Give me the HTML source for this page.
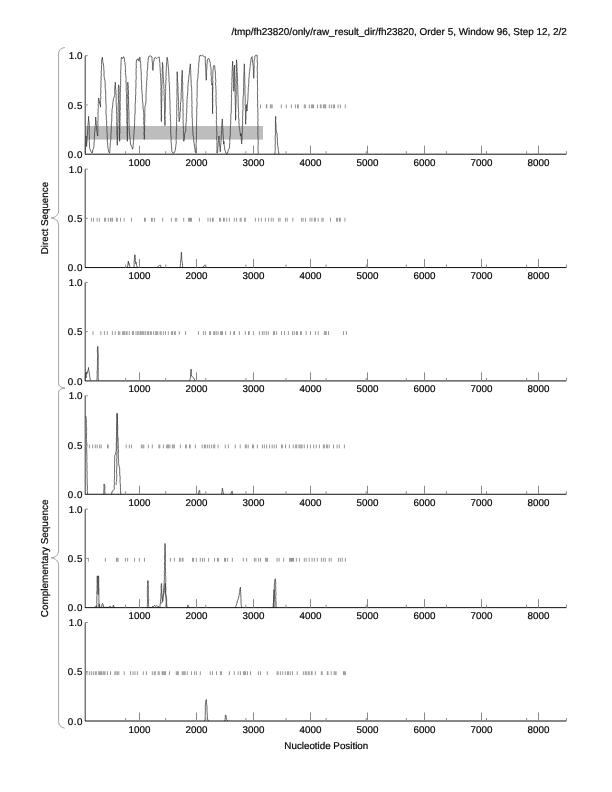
<!DOCTYPE html>
<html><head><meta charset="utf-8"><title>plot</title>
<style>html,body{margin:0;padding:0;background:#fff;width:612px;height:792px;overflow:hidden}svg{display:block}</style>
</head><body>
<svg width="612" height="792" viewBox="0 0 612 792" text-rendering="geometricPrecision"><text x="566.8" y="35.1" font-size="9.93" text-anchor="end" font-family="Liberation Sans, Arial, Helvetica, sans-serif" stroke="#000" stroke-width="0.2">/tmp/fh23820/only/raw_result_dir/fh23820, Order 5, Window 96, Step 12, 2/2</text>
<rect x="85.20" y="126.0" width="177.80" height="13.6" fill="#bdbdbd"/>
<line x1="260.50" y1="104.45" x2="260.50" y2="108.25" stroke="#8c8c8c" stroke-width="0.9"/>
<line x1="266.40" y1="104.45" x2="266.40" y2="108.25" stroke="#8c8c8c" stroke-width="0.9"/>
<line x1="266.80" y1="104.45" x2="266.80" y2="108.25" stroke="#8c8c8c" stroke-width="0.9"/>
<line x1="270.40" y1="104.45" x2="270.40" y2="108.25" stroke="#8c8c8c" stroke-width="0.9"/>
<line x1="271.20" y1="104.45" x2="271.20" y2="108.25" stroke="#8c8c8c" stroke-width="0.9"/>
<line x1="272.20" y1="104.45" x2="272.20" y2="108.25" stroke="#8c8c8c" stroke-width="0.9"/>
<line x1="281.30" y1="104.45" x2="281.30" y2="108.25" stroke="#8c8c8c" stroke-width="0.9"/>
<line x1="286.30" y1="104.45" x2="286.30" y2="108.25" stroke="#8c8c8c" stroke-width="0.9"/>
<line x1="291.40" y1="104.45" x2="291.40" y2="108.25" stroke="#8c8c8c" stroke-width="0.9"/>
<line x1="295.40" y1="104.45" x2="295.40" y2="108.25" stroke="#8c8c8c" stroke-width="0.9"/>
<line x1="297.50" y1="104.45" x2="297.50" y2="108.25" stroke="#8c8c8c" stroke-width="0.9"/>
<line x1="298.30" y1="104.45" x2="298.30" y2="108.25" stroke="#8c8c8c" stroke-width="0.9"/>
<line x1="304.30" y1="104.45" x2="304.30" y2="108.25" stroke="#8c8c8c" stroke-width="0.9"/>
<line x1="305.30" y1="104.45" x2="305.30" y2="108.25" stroke="#8c8c8c" stroke-width="0.9"/>
<line x1="309.40" y1="104.45" x2="309.40" y2="108.25" stroke="#8c8c8c" stroke-width="0.9"/>
<line x1="311.60" y1="104.45" x2="311.60" y2="108.25" stroke="#8c8c8c" stroke-width="0.9"/>
<line x1="312.60" y1="104.45" x2="312.60" y2="108.25" stroke="#8c8c8c" stroke-width="0.9"/>
<line x1="313.50" y1="104.45" x2="313.50" y2="108.25" stroke="#8c8c8c" stroke-width="0.9"/>
<line x1="317.50" y1="104.45" x2="317.50" y2="108.25" stroke="#8c8c8c" stroke-width="0.9"/>
<line x1="320.30" y1="104.45" x2="320.30" y2="108.25" stroke="#8c8c8c" stroke-width="0.9"/>
<line x1="321.10" y1="104.45" x2="321.10" y2="108.25" stroke="#8c8c8c" stroke-width="0.9"/>
<line x1="323.40" y1="104.45" x2="323.40" y2="108.25" stroke="#8c8c8c" stroke-width="0.9"/>
<line x1="324.10" y1="104.45" x2="324.10" y2="108.25" stroke="#8c8c8c" stroke-width="0.9"/>
<line x1="325.10" y1="104.45" x2="325.10" y2="108.25" stroke="#8c8c8c" stroke-width="0.9"/>
<line x1="325.70" y1="104.45" x2="325.70" y2="108.25" stroke="#8c8c8c" stroke-width="0.9"/>
<line x1="329.30" y1="104.45" x2="329.30" y2="108.25" stroke="#8c8c8c" stroke-width="0.9"/>
<line x1="331.40" y1="104.45" x2="331.40" y2="108.25" stroke="#8c8c8c" stroke-width="0.9"/>
<line x1="333.40" y1="104.45" x2="333.40" y2="108.25" stroke="#8c8c8c" stroke-width="0.9"/>
<line x1="334.50" y1="104.45" x2="334.50" y2="108.25" stroke="#8c8c8c" stroke-width="0.9"/>
<line x1="338.10" y1="104.45" x2="338.10" y2="108.25" stroke="#8c8c8c" stroke-width="0.9"/>
<line x1="340.40" y1="104.45" x2="340.40" y2="108.25" stroke="#8c8c8c" stroke-width="0.9"/>
<line x1="345.30" y1="104.45" x2="345.30" y2="108.25" stroke="#8c8c8c" stroke-width="0.9"/>
<polyline points="85.31,153.11 85.28,150.94 85.46,149.10 85.46,147.70 85.30,146.12 85.34,144.28 85.58,142.61 85.53,140.47 85.81,139.72 85.81,137.35 86.10,136.04 86.24,138.33 86.31,139.42 86.56,140.75 86.60,142.79 86.39,144.34 86.63,146.55 86.68,145.09 86.75,142.97 87.08,140.88 87.17,138.67 87.28,137.35 87.19,135.31 87.55,133.89 87.49,132.39 87.64,130.36 87.88,129.15 87.74,127.31 87.94,125.54 88.08,124.15 88.30,121.60 88.54,119.56 88.43,118.49 88.60,116.34 88.58,118.08 88.67,120.05 88.99,121.60 89.14,123.40 89.23,124.81 89.19,126.86 89.19,128.41 89.33,130.72 89.22,132.10 89.09,133.86 89.37,135.93 89.49,136.79 89.35,138.97 89.23,140.44 89.34,141.74 89.52,143.92 89.46,145.99 89.62,147.12 89.91,149.17 91.22,151.80 92.14,153.11 92.52,151.92 92.82,149.77 93.44,148.65 93.85,146.55 94.08,145.37 93.96,143.21 94.09,142.16 94.44,139.66 94.22,138.14 94.34,136.83 94.59,134.95 94.45,133.52 94.70,132.08 95.05,130.61 94.97,128.91 95.13,126.62 95.16,125.54 95.46,124.16 95.58,122.48 95.51,120.29 95.52,118.87 95.82,117.00 95.77,118.19 95.96,120.01 96.14,121.58 96.13,123.41 96.47,125.54 96.47,127.34 96.60,129.92 97.02,131.02 97.13,133.41 97.79,136.04 97.70,134.20 97.77,132.27 98.00,131.66 97.86,129.39 97.72,127.27 97.85,125.81 98.07,124.02 97.75,123.31 97.99,120.69 98.01,118.89 98.03,118.37 98.19,116.37 97.96,114.32 97.94,113.15 98.11,111.49 98.05,109.17 98.27,108.42 98.31,106.55 98.18,104.53 98.45,103.17 98.33,101.26 98.52,99.04 98.71,97.96 98.90,99.66 99.49,101.90 99.70,103.88 100.30,105.34 100.41,107.15 100.63,106.13 100.68,103.78 100.41,102.01 100.43,100.38 100.65,99.61 100.78,97.50 100.73,96.28 100.53,94.50 100.91,93.05 100.88,91.08 100.68,89.84 100.78,88.25 101.09,86.16 100.88,85.22 101.06,82.68 100.84,81.05 101.20,80.24 101.07,78.26 100.98,76.98 101.39,75.11 101.19,73.31 101.15,70.99 101.57,70.09 101.44,68.76 101.46,67.01 101.69,64.55 101.50,62.97 101.56,61.65 101.73,59.88 102.38,57.25 102.55,58.99 102.75,61.42 103.11,62.72 103.47,65.09 103.70,66.44 103.76,68.63 103.89,69.86 103.99,70.93 104.05,72.82 103.96,75.25 104.12,76.54 104.35,78.26 105.01,80.89 105.18,82.56 105.08,84.12 105.25,86.04 105.14,87.38 105.27,88.65 105.56,90.53 105.55,92.44 105.77,93.66 105.67,95.33 105.76,97.06 105.77,99.00 105.80,100.52 105.86,102.73 106.00,104.37 106.16,105.35 106.05,107.89 106.21,108.64 105.96,110.72 105.99,112.19 106.04,114.43 106.39,116.42 106.32,117.66 106.26,119.56 106.55,120.51 106.73,123.14 106.53,124.77 106.69,125.85 107.02,127.90 106.76,129.06 106.99,130.59 106.93,132.21 107.24,133.49 107.25,135.64 107.11,137.15 107.44,139.01 107.29,141.22 107.68,142.84 107.64,143.92 107.73,145.61 107.97,148.19 108.33,149.38 108.69,151.80 109.61,153.11 109.72,151.85 110.03,149.32 109.90,148.36 110.22,146.35 110.16,143.83 110.56,142.52 110.45,141.38 110.83,139.47 110.92,137.35 110.82,136.14 110.89,134.51 111.13,132.24 111.25,131.30 111.20,128.70 111.39,127.19 111.29,125.46 111.34,123.86 111.53,122.35 111.79,120.69 111.76,118.91 111.84,117.66 111.81,115.44 111.81,113.79 112.06,112.79 112.00,111.09 112.06,109.37 112.56,107.24 112.70,105.94 112.75,104.74 112.89,102.66 113.20,101.54 113.31,99.27 113.90,97.70 114.63,95.33 114.80,93.86 114.75,91.87 114.69,89.96 114.77,89.06 114.93,86.72 114.94,85.89 115.36,84.05 115.28,82.20 115.31,83.53 115.43,85.44 115.48,87.06 115.64,89.32 116.06,90.47 115.86,92.61 116.01,93.52 116.20,95.33 116.03,96.80 116.26,98.56 116.18,100.17 116.13,101.49 116.20,103.26 116.21,104.42 116.36,106.28 116.51,108.25 116.61,110.01 116.63,111.88 116.53,112.83 116.81,114.23 116.74,116.43 116.48,118.27 116.87,119.63 116.84,121.46 116.63,122.73 116.81,124.71 116.97,126.31 116.92,128.00 116.99,129.37 116.83,130.18 116.83,132.19 116.85,134.37 117.07,135.73 117.14,137.40 117.11,138.20 117.28,140.70 117.19,142.06 117.29,143.10 117.25,145.23 117.41,143.29 117.18,141.67 117.51,139.95 117.57,139.24 117.52,136.88 117.57,135.60 117.75,133.88 117.75,131.59 117.60,130.16 117.90,128.58 117.88,126.59 117.91,125.54 117.75,123.63 118.03,122.51 118.06,120.40 118.02,118.98 118.03,116.94 118.23,115.40 118.29,114.66 117.92,112.46 118.28,111.44 118.15,108.97 118.08,108.16 118.10,106.09 118.10,104.40 118.47,102.30 118.44,101.12 118.49,99.73 118.24,98.33 118.38,95.66 118.20,94.59 118.41,92.73 118.31,91.15 118.41,90.12 118.30,88.39 118.68,86.00 118.57,84.83 118.92,86.83 119.08,88.08 119.09,90.08 119.05,91.55 119.33,93.39 119.08,94.80 119.06,95.94 119.01,98.48 119.10,100.21 119.10,101.00 119.23,102.51 119.19,105.03 119.42,106.46 119.33,108.18 119.47,109.34 119.40,110.35 119.42,112.43 119.44,114.26 119.26,115.15 119.55,116.84 119.37,118.70 119.32,120.77 119.62,121.80 119.50,123.45 119.48,125.16 119.33,126.48 119.36,128.98 119.50,129.75 119.69,132.29 119.51,132.86 119.42,134.40 119.50,136.00 119.47,137.80 119.63,140.16 119.62,141.29 119.75,139.56 119.63,138.07 119.64,136.22 119.53,134.52 119.94,132.72 119.77,131.69 119.94,129.57 119.72,127.98 119.80,126.60 120.06,125.45 120.05,122.84 119.72,122.03 120.11,120.13 120.00,117.93 119.95,117.42 120.15,115.71 120.24,113.35 119.90,111.61 120.10,110.62 120.30,109.04 120.14,107.15 120.23,105.82 120.18,103.91 120.04,102.53 120.15,101.04 120.35,98.65 120.16,96.93 120.40,95.81 120.21,93.41 120.41,92.37 120.39,90.28 120.50,88.37 120.41,87.26 120.71,85.83 120.71,83.97 120.47,82.04 120.80,80.94 120.56,78.47 120.67,77.60 120.66,75.44 120.80,74.59 120.64,71.87 120.72,70.68 120.89,68.76 120.97,67.75 120.87,65.46 121.10,63.93 120.93,62.51 121.24,60.43 121.16,59.32 121.45,57.25 122.51,58.57 123.56,56.60 124.47,59.22 124.62,61.57 124.93,62.46 125.05,64.54 125.39,66.44 125.53,68.65 125.39,69.66 125.49,72.03 125.53,72.59 125.57,74.67 125.99,76.93 125.99,78.74 126.15,79.61 125.91,82.01 126.21,82.60 126.18,84.83 126.28,86.32 126.19,87.91 126.14,89.16 126.22,91.22 126.54,92.58 126.57,94.33 126.35,96.70 126.58,97.88 126.29,99.57 126.46,101.75 126.41,102.72 126.74,103.96 126.57,106.54 126.75,107.26 126.48,108.92 126.88,110.80 126.84,113.21 126.71,114.10 127.00,116.16 126.84,117.66 126.78,119.60 126.84,120.76 126.74,123.03 127.16,124.57 127.21,125.53 126.95,127.76 127.29,130.02 127.09,130.86 127.15,132.84 127.39,134.16 127.38,136.51 127.42,138.24 127.37,139.40 127.36,141.29 127.30,139.49 127.51,137.50 127.28,136.67 127.32,134.20 127.24,133.15 127.38,132.02 127.63,130.39 127.38,127.66 127.33,126.52 127.60,124.82 127.41,123.14 127.59,121.80 127.66,120.37 127.64,117.86 127.73,116.42 127.63,114.88 127.71,113.03 127.52,111.44 127.50,110.57 127.69,108.26 127.63,107.41 127.69,104.86 127.83,103.72 127.92,101.42 127.72,100.64 127.89,99.11 127.56,96.73 127.61,94.96 127.99,93.79 127.98,91.90 127.97,90.35 127.73,89.10 128.03,86.65 127.90,85.63 127.76,83.69 127.89,82.20 127.81,83.60 127.93,85.82 128.17,87.10 127.98,89.00 128.33,90.58 128.25,92.35 128.52,94.52 128.29,95.73 128.55,97.96 128.54,99.66 128.68,100.75 128.52,103.12 128.67,104.27 128.66,106.71 128.70,107.89 128.76,109.35 129.01,111.69 128.84,112.37 129.04,114.02 128.77,116.50 128.99,118.04 129.02,119.76 129.08,120.53 128.93,122.64 129.23,124.71 129.04,126.01 129.20,127.51 129.15,128.89 129.33,130.79 129.47,132.94 129.43,134.06 129.86,136.27 129.73,136.91 130.18,139.57 130.11,140.10 130.43,142.14 130.38,143.92 131.70,146.55 132.62,149.17 132.98,147.67 133.15,145.48 133.33,143.91 133.40,142.61 133.47,141.42 133.75,139.02 133.59,137.67 133.82,136.05 133.76,134.28 134.11,133.45 133.93,131.45 134.33,129.21 134.32,128.16 134.54,126.00 134.52,124.81 134.61,122.81 134.60,121.43 134.69,119.82 134.77,117.85 134.67,116.35 134.95,114.19 135.14,113.13 135.11,111.09 135.14,109.06 135.20,107.34 135.10,106.08 135.14,104.46 135.36,102.33 135.46,100.74 135.55,99.93 135.51,97.42 135.56,96.17 135.79,94.24 135.80,93.63 135.80,91.77 135.62,90.33 135.80,88.66 136.02,86.07 135.90,84.83 136.06,83.68 135.79,81.32 136.11,79.43 136.21,77.91 136.21,76.08 136.11,75.35 136.02,72.90 136.18,71.30 136.02,69.48 136.11,68.72 136.36,67.01 136.18,65.21 136.19,63.24 136.45,61.37 136.42,59.88 137.21,59.88 138.00,58.57 138.92,61.19 139.40,59.29 139.58,57.25 140.00,57.25 140.15,59.32 140.07,61.05 140.40,61.94 140.59,63.39 140.79,65.37 140.64,67.20 140.79,68.10 141.04,69.55 141.05,71.70 141.26,73.04 141.26,75.56 141.32,76.82 141.28,77.66 141.24,79.48 141.56,81.46 141.59,83.66 141.51,84.50 141.80,85.90 141.61,87.94 141.73,89.58 141.97,91.39 141.97,93.14 142.24,94.32 142.37,96.29 142.28,98.48 142.44,99.18 142.49,101.41 142.93,103.22 142.89,104.53 143.04,106.21 143.08,108.64 143.51,110.25 143.68,112.40 143.78,114.02 143.94,116.05 143.69,117.94 143.65,119.17 143.84,120.50 143.74,122.83 143.76,124.24 144.19,125.43 143.92,127.68 144.09,129.40 144.26,130.52 144.09,132.35 144.02,134.74 144.37,136.22 144.08,138.05 144.33,139.32 144.46,137.67 144.49,136.05 144.30,134.02 144.33,132.34 144.40,131.58 144.57,130.09 144.61,127.78 144.57,126.38 144.69,124.87 144.50,123.41 144.82,121.29 144.81,119.44 144.57,118.09 144.80,117.34 144.83,114.99 144.91,113.38 144.67,112.47 144.86,110.60 144.90,109.33 144.86,107.15 145.20,105.81 145.64,104.08 145.91,101.90 145.95,100.46 146.07,98.25 145.99,96.92 145.99,95.56 146.09,92.80 146.14,92.17 146.30,89.52 146.24,87.69 146.58,86.70 146.57,84.83 146.74,83.51 146.56,81.73 146.77,80.39 147.05,78.88 146.82,77.24 147.26,75.73 147.01,73.24 147.10,71.43 147.35,70.38 147.63,69.01 147.67,67.27 147.80,64.88 147.71,62.90 148.12,61.28 148.14,59.88 148.46,57.95 148.93,56.20 150.51,55.94 152.08,56.99 151.95,58.42 152.14,60.70 152.25,61.95 152.58,63.90 152.60,65.76 152.33,67.24 152.61,69.07 153.00,70.38 153.10,68.74 153.20,66.69 153.41,64.13 153.53,62.51 154.14,59.72 154.44,57.91 155.49,57.25 156.81,58.57 158.12,57.25 159.17,56.99 159.50,58.30 159.36,60.05 159.87,62.68 159.96,63.82 159.84,65.41 160.13,67.38 160.09,68.63 160.25,70.64 160.30,72.38 160.39,73.11 160.66,75.05 160.50,76.82 160.75,78.26 160.60,80.21 160.88,81.82 160.87,82.90 160.80,84.56 161.03,85.79 161.06,87.32 160.79,89.21 161.11,91.10 160.92,93.17 160.88,94.27 161.03,96.22 161.15,97.70 161.00,98.92 160.94,101.14 161.18,102.63 161.00,103.87 161.28,105.64 161.03,107.11 161.37,108.44 161.10,110.12 161.34,112.38 161.14,113.16 161.20,114.97 161.34,116.37 161.28,118.01 161.58,120.27 161.40,121.60 161.26,120.48 161.28,118.11 161.68,116.94 161.60,114.83 161.40,113.41 161.38,111.22 161.52,109.34 161.55,108.58 161.70,106.56 161.70,104.84 161.52,103.34 161.65,101.83 161.89,99.79 161.77,98.50 161.73,96.20 161.88,95.31 161.93,93.42 161.98,91.73 161.92,89.79 161.80,88.32 161.74,86.40 161.93,84.83 162.10,83.37 162.08,81.09 162.05,79.62 162.18,77.85 162.26,76.76 162.10,74.71 162.40,72.67 162.33,71.66 162.19,69.43 162.29,67.99 162.67,65.96 162.37,64.31 162.59,62.51 162.70,64.45 162.78,66.05 163.01,67.60 162.92,69.80 162.93,71.17 163.10,72.95 163.24,74.32 163.19,76.66 163.40,77.29 163.48,79.46 163.48,81.23 163.76,83.32 163.90,84.83 163.88,86.17 163.87,88.37 164.21,89.75 163.95,91.70 164.06,92.62 164.00,94.93 164.32,96.39 164.22,97.93 164.16,100.04 164.26,101.28 164.50,103.12 164.39,104.12 164.47,105.55 164.63,107.45 164.68,108.97 164.52,110.59 164.58,112.13 164.45,114.40 164.61,115.46 164.66,117.37 164.75,119.19 164.89,120.49 165.05,122.70 164.72,124.30 164.95,125.54 165.15,124.25 164.86,122.68 165.10,120.08 164.87,119.57 165.17,117.11 164.97,115.35 165.06,114.49 165.14,112.11 165.40,111.25 165.12,109.75 165.34,107.99 165.40,106.50 165.48,104.81 165.26,103.01 165.43,101.44 165.42,99.98 165.50,97.61 165.40,95.84 165.54,94.12 165.56,92.59 165.61,91.39 165.65,89.70 165.72,88.45 165.54,86.74 165.78,84.72 165.91,83.36 165.83,81.17 166.13,79.07 166.04,78.05 165.83,76.33 166.15,75.03 166.05,73.40 166.17,71.12 166.38,68.89 166.26,67.76 166.51,66.16 166.50,64.69 166.67,62.47 166.89,61.08 166.91,58.93 167.18,57.25 167.35,58.96 167.71,60.29 167.91,62.06 167.97,63.82 168.00,63.82 168.17,65.19 168.33,67.67 168.56,69.09 168.66,70.38 168.66,71.77 168.72,73.70 168.93,75.54 168.76,77.07 169.18,78.46 168.91,79.77 168.96,81.25 169.42,83.35 169.31,84.83 169.43,86.82 169.59,88.25 169.53,89.90 169.61,91.51 169.66,92.69 169.71,94.63 169.81,95.84 169.62,97.40 169.92,100.10 169.93,101.09 170.05,103.23 169.97,104.53 170.05,105.88 170.00,107.71 170.06,109.37 170.25,111.61 170.06,112.81 170.10,113.92 170.48,116.11 170.58,117.59 170.26,119.16 170.56,121.46 170.77,122.55 170.63,124.22 170.64,125.39 170.80,127.16 170.64,128.57 170.64,131.01 170.74,132.99 170.78,134.51 170.85,135.13 171.16,137.04 171.22,138.62 170.98,140.97 171.32,142.70 171.28,143.92 171.54,145.39 171.67,148.11 171.76,150.35 171.94,151.80 172.99,153.11 173.91,153.11 175.22,150.48 175.35,149.40 175.77,146.62 175.71,145.74 176.14,143.92 176.31,141.77 176.13,140.91 176.10,139.43 176.27,136.83 176.25,135.80 176.31,134.28 176.22,132.79 176.35,130.96 176.49,129.05 176.42,127.85 176.69,126.21 176.56,123.97 176.38,123.15 176.69,121.33 176.56,119.42 176.67,117.66 176.89,116.41 176.75,114.14 176.69,113.20 176.69,111.31 176.80,109.92 176.91,107.55 176.59,105.88 176.78,104.63 176.97,103.35 176.66,101.64 177.00,100.04 176.92,97.69 177.06,96.69 177.01,95.17 176.88,92.54 176.99,91.75 176.86,90.05 177.19,87.79 177.07,86.68 177.03,84.48 176.96,83.49 177.20,81.50 176.92,80.27 177.23,77.94 177.17,77.10 177.32,75.01 177.16,73.45 177.19,71.70 177.15,73.08 177.23,75.44 177.40,77.03 177.50,78.72 177.48,79.90 177.72,82.20 177.99,83.69 177.68,85.64 178.03,86.71 178.02,88.58 178.05,89.83 177.92,92.64 178.33,93.68 178.24,95.33 178.33,96.69 178.47,98.53 178.60,100.58 178.61,102.46 178.43,102.99 178.46,104.80 178.47,106.28 178.73,108.91 178.74,110.64 178.99,111.22 178.92,113.27 178.77,115.58 178.89,116.75 179.11,118.86 179.18,119.83 179.16,121.60 179.47,119.22 179.82,117.66 180.10,116.61 179.87,113.82 179.96,112.55 180.32,111.58 180.37,108.91 180.43,108.06 180.45,106.75 180.47,104.53 180.45,102.46 180.91,101.77 181.04,99.36 181.13,97.96 181.22,96.63 181.08,94.47 181.19,92.58 181.34,91.00 181.30,89.32 181.53,87.53 181.61,86.10 181.37,85.34 181.51,83.71 181.83,82.01 181.58,79.84 181.79,78.26 181.72,76.81 182.13,74.48 182.06,72.16 182.18,70.38 182.38,71.96 182.35,73.17 182.24,74.67 182.51,76.87 182.32,78.85 182.43,79.91 182.45,81.34 182.79,83.02 182.71,84.83 182.59,86.46 182.67,88.59 182.60,90.33 182.60,91.87 182.88,92.69 182.82,94.42 182.74,95.96 182.81,98.55 183.09,100.11 182.74,100.99 183.09,102.35 183.04,104.28 183.16,105.59 183.11,107.62 182.85,108.85 183.16,111.12 182.91,112.65 183.23,114.04 183.11,115.58 183.10,117.66 183.01,119.67 183.28,120.67 183.06,122.23 183.33,124.40 183.24,125.75 183.43,128.04 183.56,129.57 183.35,130.64 183.62,132.74 183.66,134.01 183.75,136.03 183.81,138.35 183.71,139.02 183.76,141.29 184.19,139.30 184.44,137.07 184.41,135.78 184.81,133.41 185.73,130.79 185.75,128.74 185.84,127.62 185.77,125.89 186.03,124.24 185.98,122.84 186.35,121.38 186.23,119.55 186.38,117.66 186.41,116.21 186.35,114.60 186.79,112.40 186.68,110.69 186.76,108.33 187.02,106.82 186.76,104.92 186.86,104.03 187.04,101.90 186.95,99.66 187.34,98.03 187.17,96.77 187.51,94.92 187.67,92.67 187.70,91.39 187.98,89.82 187.77,87.26 188.09,85.88 188.13,83.59 188.35,82.20 188.48,80.12 188.72,79.35 188.70,77.37 189.01,75.64 189.28,73.59 189.48,72.88 189.46,70.62 189.67,69.07 190.03,67.35 190.06,66.10 190.32,63.82 190.51,65.23 190.36,66.83 190.52,69.21 190.74,70.73 190.82,72.26 190.57,73.47 191.03,75.57 190.80,76.56 190.98,78.26 191.12,79.74 191.16,81.03 191.20,83.19 191.11,84.40 191.59,86.80 191.66,88.27 191.68,90.21 191.64,91.39 191.83,92.44 191.77,94.32 191.82,95.94 191.80,98.32 191.87,99.12 191.86,100.94 192.08,102.37 191.85,104.41 191.81,105.95 192.19,107.46 191.94,109.01 192.09,110.23 191.95,111.82 192.06,113.75 192.09,115.16 192.05,117.13 192.40,118.81 192.29,120.28 192.42,122.21 192.37,124.04 192.58,125.59 192.75,127.25 192.72,128.73 192.79,130.80 192.96,132.64 192.90,134.11 193.21,136.04 193.63,137.70 193.76,139.97 193.91,142.53 194.26,143.92 194.41,146.22 194.58,147.34 195.11,149.76 195.18,151.80 195.84,151.80 196.00,153.11 195.85,151.37 196.03,150.17 195.93,147.95 196.31,146.95 196.00,144.86 196.12,143.65 196.26,142.25 196.37,140.24 196.37,138.90 196.41,136.97 196.45,135.63 196.53,133.32 196.54,131.57 196.53,130.65 196.45,129.49 196.51,127.23 196.63,126.16 196.58,123.96 196.55,122.44 196.69,120.63 196.58,119.33 196.66,117.66 196.64,115.77 196.84,114.73 196.75,112.58 196.64,110.74 196.66,109.39 196.87,107.13 197.04,105.75 197.04,104.69 197.12,102.26 196.92,101.44 196.78,98.73 197.04,97.60 197.22,96.26 197.09,94.86 197.11,92.61 197.21,90.78 197.10,89.36 197.13,88.11 197.30,85.93 197.09,84.08 197.24,82.63 197.31,80.89 197.56,79.59 197.95,77.37 197.97,75.64 198.05,74.04 198.40,71.95 198.31,70.76 198.27,68.41 198.72,67.27 198.63,65.13 198.80,62.69 199.12,61.42 199.25,59.81 199.28,57.25 199.94,55.28 201.25,55.94 202.57,55.28 203.62,55.94 204.54,57.25 205.19,56.60 205.43,58.18 205.19,59.70 205.42,61.64 205.35,62.93 205.61,65.11 205.57,67.26 205.76,67.79 205.74,70.36 205.85,71.70 205.85,73.63 205.80,74.88 206.23,76.92 206.23,78.16 206.24,80.23 206.33,78.44 206.32,76.69 206.52,75.25 206.62,72.68 206.52,70.52 206.77,69.07 206.98,66.76 206.81,65.00 207.09,63.94 207.24,62.09 207.29,59.88 208.08,58.57 208.87,58.57 209.79,61.19 210.44,63.82 210.42,65.20 210.89,67.54 211.03,69.55 211.10,71.70 211.04,73.06 211.10,75.46 211.38,76.44 211.41,78.13 211.32,80.37 211.63,82.10 211.65,83.33 211.76,84.83 212.28,83.52 212.20,84.65 212.51,87.30 212.27,89.03 212.50,89.99 212.44,92.46 212.41,94.12 212.33,95.13 212.55,96.60 212.40,99.07 212.50,100.65 212.42,101.58 212.49,103.27 212.77,105.08 212.62,106.54 212.63,108.55 212.59,109.84 212.50,112.43 212.68,113.72 212.62,111.77 212.56,110.17 212.58,108.23 212.77,106.96 212.56,105.76 212.54,103.59 212.86,101.78 212.70,100.99 212.85,98.54 212.67,97.57 212.69,96.21 212.62,94.56 212.75,92.05 212.73,90.29 212.85,88.81 212.93,87.56 212.71,85.51 212.82,83.83 212.94,82.08 212.79,80.94 212.70,79.57 212.75,77.80 212.83,75.74 212.81,74.32 212.93,71.86 213.00,70.81 213.23,68.61 213.46,66.44 214.12,65.13 214.78,66.44 214.78,68.16 215.05,69.73 215.18,70.85 215.43,73.01 215.40,74.35 215.37,76.61 215.49,77.91 215.80,80.03 215.83,81.80 215.57,82.77 215.57,84.92 215.89,86.20 215.83,88.24 216.00,89.42 215.96,91.39 216.14,92.86 216.08,94.29 215.90,96.81 216.19,98.21 215.93,99.05 216.01,100.88 216.11,102.74 216.03,104.30 216.31,105.78 216.43,107.89 216.41,109.16 216.33,111.31 216.32,112.13 216.56,114.71 216.36,115.47 216.48,117.66 216.66,119.40 216.34,120.57 216.39,122.84 216.46,124.60 216.71,125.22 216.71,127.20 216.76,129.33 216.58,130.06 216.89,132.07 216.90,134.00 216.85,135.78 216.83,136.94 216.61,138.84 216.79,140.23 217.02,141.38 216.98,142.89 216.98,145.42 216.81,146.72 217.14,148.44 216.98,149.59 216.80,151.33 217.01,153.11 217.67,151.80 217.76,149.60 217.85,147.69 218.15,146.49 218.08,144.13 218.32,142.61 218.49,140.90 218.83,139.14 218.73,138.14 218.98,136.04 218.99,138.09 219.24,140.36 219.49,142.26 219.64,143.92 219.66,146.09 220.01,147.81 220.24,150.23 220.29,151.80 220.30,149.58 220.56,147.51 220.60,145.63 220.95,143.92 220.90,142.52 221.09,140.17 221.12,138.96 221.22,136.96 221.18,135.13 221.65,134.37 221.35,132.69 221.61,130.79 221.90,129.18 221.63,127.40 221.86,125.35 222.00,123.44 222.25,122.52 222.22,121.18 222.26,118.97 222.42,120.36 222.34,121.91 222.35,124.36 222.78,125.48 222.60,127.58 222.97,129.61 222.92,130.79 222.86,132.77 223.22,134.36 223.09,135.33 223.38,137.14 223.27,139.06 223.36,141.03 223.38,141.73 223.58,143.92 223.97,141.29 224.00,143.92 224.25,145.82 224.57,147.67 224.66,149.17 225.48,151.68 225.97,153.11 227.28,153.77 227.94,151.47 228.60,149.17 229.52,147.86 229.45,145.91 229.71,143.94 229.83,142.33 229.81,141.59 229.74,138.77 229.96,137.25 230.16,135.31 230.29,134.63 230.34,132.41 230.30,130.79 230.28,129.34 230.44,127.41 230.43,125.79 230.64,124.61 230.80,122.18 230.61,120.87 230.79,119.12 230.83,117.66 230.77,115.41 230.89,114.11 231.22,112.89 231.24,111.22 231.35,109.05 231.22,107.15 231.40,104.91 231.40,103.85 231.29,102.09 231.61,100.26 231.54,98.32 231.46,97.31 231.38,94.76 231.70,93.35 231.50,91.89 231.67,90.08 231.74,88.30 231.86,86.42 231.88,84.83 231.76,82.76 232.14,81.51 231.86,80.20 231.96,77.59 232.13,76.09 232.16,74.76 232.09,73.10 232.09,71.34 232.34,69.13 232.31,67.43 232.37,66.69 232.46,64.83 232.60,62.42 232.54,61.19 232.85,63.21 232.59,65.09 232.82,66.05 233.17,68.27 233.20,69.51 233.19,71.70 233.36,72.81 233.19,74.83 233.15,76.73 233.29,78.02 233.55,79.82 233.68,81.69 233.73,83.26 233.80,85.27 233.54,86.76 233.67,88.43 233.87,90.14 233.85,91.39 233.73,89.60 234.03,88.65 234.06,85.92 234.06,84.35 234.07,83.55 233.93,82.06 234.21,79.61 234.05,78.20 234.36,76.72 234.10,74.40 234.14,73.70 234.21,71.76 234.29,70.28 234.37,67.99 234.62,66.82 234.51,65.13 234.63,67.14 234.78,67.83 234.56,69.64 234.67,72.14 234.84,72.78 234.62,75.36 234.87,76.49 234.82,77.85 235.02,79.78 235.07,81.68 234.78,82.98 234.88,85.30 235.08,85.92 234.94,87.94 235.11,89.84 235.16,91.39 235.14,92.82 235.00,94.70 235.16,95.63 235.23,98.40 235.08,98.99 235.36,100.75 235.22,102.63 235.24,104.32 235.37,106.39 235.59,106.88 235.43,109.37 235.58,110.98 235.50,112.42 235.41,113.60 235.61,115.92 235.70,117.29 235.45,118.99 235.56,120.28 235.70,118.62 235.71,116.76 235.72,115.16 235.56,113.40 235.72,112.51 235.83,110.10 235.78,108.27 235.87,106.48 235.78,105.69 236.01,103.50 236.08,101.90 236.12,100.05 235.97,98.15 236.04,96.82 236.24,95.50 236.34,93.63 236.35,92.30 236.01,90.20 236.24,89.55 236.16,87.68 236.20,86.18 236.07,84.10 236.43,82.24 236.18,80.32 236.15,78.99 236.39,77.32 236.28,75.68 236.38,74.86 236.42,72.44 236.47,71.75 236.43,69.07 236.53,68.41 236.35,65.91 236.30,64.77 236.60,63.28 236.64,61.15 236.47,59.88 236.53,62.02 236.80,63.44 236.94,65.20 236.81,67.13 237.13,69.07 236.99,70.94 237.16,72.50 237.32,73.93 237.32,75.36 237.56,77.73 237.64,78.84 237.53,81.36 237.46,82.32 237.44,84.10 237.75,85.75 237.82,87.87 237.75,89.78 237.79,91.39 237.87,93.22 237.94,94.47 238.05,96.03 238.10,98.28 238.18,99.37 238.23,101.82 238.15,102.62 238.24,105.05 238.13,105.58 238.32,107.99 238.50,109.28 238.44,111.09 238.72,112.37 238.70,113.81 238.47,115.47 238.55,117.51 238.83,118.73 239.07,120.56 238.81,121.94 239.13,124.44 239.10,125.54 239.18,126.72 239.66,128.73 239.76,130.79 240.18,132.54 240.25,134.10 240.41,136.04 241.07,133.41 241.31,135.12 241.22,137.40 241.23,138.95 241.33,140.59 241.58,142.61 241.73,143.92 241.62,142.35 241.85,141.14 242.16,139.15 241.94,137.06 242.04,135.63 242.11,133.71 242.41,132.60 242.38,130.79 242.34,129.74 242.35,127.59 242.36,126.30 242.70,123.94 242.69,122.97 242.54,120.74 242.67,119.77 242.57,117.88 242.79,115.96 242.83,114.83 242.71,113.19 242.82,111.43 243.07,109.07 243.11,108.40 242.91,105.60 243.04,104.53 242.93,103.45 242.94,101.74 243.06,99.88 243.09,97.56 243.39,95.83 243.30,95.18 243.51,93.49 243.68,90.83 243.42,90.10 243.67,87.56 243.64,86.15 243.70,84.83 243.72,82.74 243.60,82.18 243.77,80.43 243.74,78.35 243.80,76.66 243.87,75.35 243.90,73.80 244.10,71.43 244.09,70.28 244.38,68.49 244.13,67.61 244.46,65.71 244.35,63.82 244.30,65.05 244.33,66.55 244.28,68.69 244.47,70.37 244.49,71.34 244.66,73.73 244.64,75.23 244.74,77.37 244.86,78.68 244.70,79.82 244.74,82.23 244.77,83.15 244.82,84.48 245.10,85.93 244.98,88.66 244.87,89.90 245.01,91.39 244.99,92.72 244.95,94.22 245.25,96.66 245.31,97.42 245.26,99.39 245.27,101.30 245.16,103.45 245.06,104.82 245.45,106.18 245.38,108.40 245.26,109.60 245.51,110.95 245.53,112.60 245.48,114.51 245.58,115.80 245.59,117.71 245.45,119.43 245.50,121.43 245.62,122.85 245.67,124.22 245.73,122.55 245.66,120.51 246.01,119.33 245.90,117.69 246.07,115.70 245.86,114.76 246.03,112.90 246.24,111.56 246.31,108.90 246.16,108.21 246.40,105.71 246.32,104.53 246.34,105.87 246.48,107.64 246.94,109.48 246.98,111.09 247.09,108.76 247.20,108.01 247.46,105.51 247.50,104.10 247.64,101.90 247.85,99.73 247.93,98.24 247.97,96.33 248.02,94.70 248.13,92.57 248.29,91.39 248.25,89.84 248.27,87.73 248.63,86.20 248.55,84.52 248.84,82.70 248.84,81.98 248.74,79.81 248.95,78.26 249.24,76.76 249.22,74.43 249.42,73.18 249.61,71.70 249.86,69.81 249.90,68.59 250.23,66.60 250.26,65.13 250.43,63.47 250.88,61.26 250.92,59.88 251.58,57.25 252.23,56.60 252.00,57.25 252.42,59.26 252.38,60.95 252.66,62.51 252.80,63.74 253.20,65.86 253.31,67.76 253.39,69.50 253.61,71.57 253.31,73.12 253.56,74.72 253.78,76.41 253.71,78.26 253.76,77.06 253.80,74.91 253.89,73.64 254.02,71.87 253.96,69.36 254.14,68.30 254.24,66.89 254.02,64.56 254.07,63.60 254.14,61.06 254.36,59.88 254.73,58.31 254.89,56.60 255.68,55.28 256.60,55.28 257.25,55.28 257.08,57.14 257.37,58.55 257.10,60.44 257.27,61.95 257.52,63.87 257.48,64.71 257.27,66.79 257.14,69.00 257.27,69.77 257.29,71.40 257.53,73.41 257.40,74.88 257.22,76.39 257.57,78.62 257.58,79.61 257.32,81.01 257.47,83.04 257.45,84.82 257.51,86.31 257.62,87.75 257.68,89.82 257.52,91.39 257.35,92.81 257.57,94.57 257.60,96.11 257.50,98.31 257.53,99.85 257.76,101.35 257.63,103.41 257.65,104.98 257.51,106.09 257.77,107.27 257.88,108.94 257.79,110.71 257.95,112.81 257.92,114.37 257.88,116.23 257.74,117.31 257.99,118.87 258.05,120.59 257.72,122.10 257.91,124.22 258.04,126.40 257.90,127.70 257.85,129.63 258.05,130.37 257.80,132.66 257.80,134.47 257.92,135.39 258.06,137.14 258.07,138.58 258.23,140.43 258.21,141.86 258.21,144.50 258.05,145.00 258.06,147.37 258.01,148.90 257.97,150.44 258.25,152.04 258.17,153.77" fill="none" stroke="#333" stroke-width="0.75" stroke-linejoin="round"/>
<polyline points="274.32,154.03 274.98,153.77 275.08,151.68 275.17,150.06 275.24,149.48 275.28,147.29 275.03,145.45 275.26,144.00 275.36,141.89 275.20,141.19 275.28,139.17 275.09,137.06 275.20,136.34 275.47,133.91 275.53,132.05 275.42,131.55 275.34,129.89 275.50,127.19 275.40,126.05 275.39,124.77 275.39,123.20 275.47,120.71 275.60,119.11 275.63,118.32 275.64,116.34 275.75,117.90 275.59,119.57 275.69,121.33 275.77,122.86 275.94,124.22 276.14,125.57 276.01,128.11 276.15,129.59 276.29,130.79 276.95,133.41 277.22,135.14 277.02,136.43 277.44,138.21 277.39,140.46 277.34,142.13 277.61,143.92 277.68,145.71 278.05,147.26 278.26,149.17 278.35,150.68 278.58,151.96 278.92,154.03" fill="none" stroke="#333" stroke-width="0.75" stroke-linejoin="round"/>
<path d="M85.20,55.70V154.20" fill="none" stroke="#3a3a3a" stroke-width="1"/>
<path d="M84.90,154.20H566.40" fill="none" stroke="#111" stroke-width="1"/>
<line x1="85.20" y1="55.70" x2="87.80" y2="55.70" stroke="#8a8a8a" stroke-width="1"/>
<text x="82.4" y="59.20" font-size="9.8" text-anchor="end" font-family="Liberation Sans, Arial, Helvetica, sans-serif" stroke="#000" stroke-width="0.2">1.0</text>
<line x1="85.20" y1="104.95" x2="87.80" y2="104.95" stroke="#8a8a8a" stroke-width="1"/>
<text x="82.9" y="108.55" font-size="9.8" letter-spacing="0.5" text-anchor="end" font-family="Liberation Sans, Arial, Helvetica, sans-serif" stroke="#000" stroke-width="0.2">0.5</text>
<text x="82.9" y="157.80" font-size="9.8" letter-spacing="0.5" text-anchor="end" font-family="Liberation Sans, Arial, Helvetica, sans-serif" stroke="#000" stroke-width="0.2">0.0</text>
<line x1="139.50" y1="154.20" x2="139.50" y2="145.70" stroke="#8a8a8a" stroke-width="1"/>
<text x="139.50" y="165.70" font-size="9.8" text-anchor="middle" font-family="Liberation Sans, Arial, Helvetica, sans-serif" stroke="#000" stroke-width="0.2">1000</text>
<line x1="196.50" y1="154.20" x2="196.50" y2="145.70" stroke="#8a8a8a" stroke-width="1"/>
<text x="196.50" y="165.70" font-size="9.8" text-anchor="middle" font-family="Liberation Sans, Arial, Helvetica, sans-serif" stroke="#000" stroke-width="0.2">2000</text>
<line x1="253.50" y1="154.20" x2="253.50" y2="145.70" stroke="#8a8a8a" stroke-width="1"/>
<text x="253.50" y="165.70" font-size="9.8" text-anchor="middle" font-family="Liberation Sans, Arial, Helvetica, sans-serif" stroke="#000" stroke-width="0.2">3000</text>
<line x1="310.50" y1="154.20" x2="310.50" y2="145.70" stroke="#8a8a8a" stroke-width="1"/>
<text x="310.50" y="165.70" font-size="9.8" text-anchor="middle" font-family="Liberation Sans, Arial, Helvetica, sans-serif" stroke="#000" stroke-width="0.2">4000</text>
<line x1="367.50" y1="154.20" x2="367.50" y2="145.70" stroke="#8a8a8a" stroke-width="1"/>
<text x="367.50" y="165.70" font-size="9.8" text-anchor="middle" font-family="Liberation Sans, Arial, Helvetica, sans-serif" stroke="#000" stroke-width="0.2">5000</text>
<line x1="424.50" y1="154.20" x2="424.50" y2="145.70" stroke="#8a8a8a" stroke-width="1"/>
<text x="424.50" y="165.70" font-size="9.8" text-anchor="middle" font-family="Liberation Sans, Arial, Helvetica, sans-serif" stroke="#000" stroke-width="0.2">6000</text>
<line x1="481.50" y1="154.20" x2="481.50" y2="145.70" stroke="#8a8a8a" stroke-width="1"/>
<text x="481.50" y="165.70" font-size="9.8" text-anchor="middle" font-family="Liberation Sans, Arial, Helvetica, sans-serif" stroke="#000" stroke-width="0.2">7000</text>
<line x1="538.50" y1="154.20" x2="538.50" y2="145.70" stroke="#8a8a8a" stroke-width="1"/>
<text x="538.50" y="165.70" font-size="9.8" text-anchor="middle" font-family="Liberation Sans, Arial, Helvetica, sans-serif" stroke="#000" stroke-width="0.2">8000</text>
<line x1="125.60" y1="154.20" x2="125.60" y2="151.20" stroke="#8a8a8a" stroke-width="1"/>
<line x1="165.70" y1="154.20" x2="165.70" y2="151.20" stroke="#8a8a8a" stroke-width="1"/>
<line x1="205.80" y1="154.20" x2="205.80" y2="151.20" stroke="#8a8a8a" stroke-width="1"/>
<line x1="245.90" y1="154.20" x2="245.90" y2="151.20" stroke="#8a8a8a" stroke-width="1"/>
<line x1="286.00" y1="154.20" x2="286.00" y2="151.20" stroke="#8a8a8a" stroke-width="1"/>
<line x1="326.10" y1="154.20" x2="326.10" y2="151.20" stroke="#8a8a8a" stroke-width="1"/>
<line x1="366.20" y1="154.20" x2="366.20" y2="151.20" stroke="#8a8a8a" stroke-width="1"/>
<line x1="406.30" y1="154.20" x2="406.30" y2="151.20" stroke="#8a8a8a" stroke-width="1"/>
<line x1="446.40" y1="154.20" x2="446.40" y2="151.20" stroke="#8a8a8a" stroke-width="1"/>
<line x1="486.50" y1="154.20" x2="486.50" y2="151.20" stroke="#8a8a8a" stroke-width="1"/>
<line x1="526.60" y1="154.20" x2="526.60" y2="151.20" stroke="#8a8a8a" stroke-width="1"/>
<line x1="566.40" y1="154.20" x2="566.40" y2="151.20" stroke="#8a8a8a" stroke-width="1"/>
<line x1="91.40" y1="217.81" x2="91.40" y2="221.61" stroke="#8c8c8c" stroke-width="0.9"/>
<line x1="93.50" y1="217.81" x2="93.50" y2="221.61" stroke="#8c8c8c" stroke-width="0.9"/>
<line x1="97.20" y1="217.81" x2="97.20" y2="221.61" stroke="#8c8c8c" stroke-width="0.9"/>
<line x1="99.40" y1="217.81" x2="99.40" y2="221.61" stroke="#8c8c8c" stroke-width="0.9"/>
<line x1="104.60" y1="217.81" x2="104.60" y2="221.61" stroke="#8c8c8c" stroke-width="0.9"/>
<line x1="105.40" y1="217.81" x2="105.40" y2="221.61" stroke="#8c8c8c" stroke-width="0.9"/>
<line x1="108.30" y1="217.81" x2="108.30" y2="221.61" stroke="#8c8c8c" stroke-width="0.9"/>
<line x1="110.50" y1="217.81" x2="110.50" y2="221.61" stroke="#8c8c8c" stroke-width="0.9"/>
<line x1="111.90" y1="217.81" x2="111.90" y2="221.61" stroke="#8c8c8c" stroke-width="0.9"/>
<line x1="112.60" y1="217.81" x2="112.60" y2="221.61" stroke="#8c8c8c" stroke-width="0.9"/>
<line x1="116.40" y1="217.81" x2="116.40" y2="221.61" stroke="#8c8c8c" stroke-width="0.9"/>
<line x1="117.30" y1="217.81" x2="117.30" y2="221.61" stroke="#8c8c8c" stroke-width="0.9"/>
<line x1="120.50" y1="217.81" x2="120.50" y2="221.61" stroke="#8c8c8c" stroke-width="0.9"/>
<line x1="124.20" y1="217.81" x2="124.20" y2="221.61" stroke="#8c8c8c" stroke-width="0.9"/>
<line x1="131.50" y1="217.81" x2="131.50" y2="221.61" stroke="#8c8c8c" stroke-width="0.9"/>
<line x1="144.50" y1="217.81" x2="144.50" y2="221.61" stroke="#8c8c8c" stroke-width="0.9"/>
<line x1="145.30" y1="217.81" x2="145.30" y2="221.61" stroke="#8c8c8c" stroke-width="0.9"/>
<line x1="151.50" y1="217.81" x2="151.50" y2="221.61" stroke="#8c8c8c" stroke-width="0.9"/>
<line x1="152.30" y1="217.81" x2="152.30" y2="221.61" stroke="#8c8c8c" stroke-width="0.9"/>
<line x1="154.50" y1="217.81" x2="154.50" y2="221.61" stroke="#8c8c8c" stroke-width="0.9"/>
<line x1="162.60" y1="217.81" x2="162.60" y2="221.61" stroke="#8c8c8c" stroke-width="0.9"/>
<line x1="171.40" y1="217.81" x2="171.40" y2="221.61" stroke="#8c8c8c" stroke-width="0.9"/>
<line x1="175.30" y1="217.81" x2="175.30" y2="221.61" stroke="#8c8c8c" stroke-width="0.9"/>
<line x1="176.80" y1="217.81" x2="176.80" y2="221.61" stroke="#8c8c8c" stroke-width="0.9"/>
<line x1="183.70" y1="217.81" x2="183.70" y2="221.61" stroke="#8c8c8c" stroke-width="0.9"/>
<line x1="188.60" y1="217.81" x2="188.60" y2="221.61" stroke="#8c8c8c" stroke-width="0.9"/>
<line x1="189.50" y1="217.81" x2="189.50" y2="221.61" stroke="#8c8c8c" stroke-width="0.9"/>
<line x1="190.50" y1="217.81" x2="190.50" y2="221.61" stroke="#8c8c8c" stroke-width="0.9"/>
<line x1="191.50" y1="217.81" x2="191.50" y2="221.61" stroke="#8c8c8c" stroke-width="0.9"/>
<line x1="199.40" y1="217.81" x2="199.40" y2="221.61" stroke="#8c8c8c" stroke-width="0.9"/>
<line x1="208.00" y1="217.81" x2="208.00" y2="221.61" stroke="#8c8c8c" stroke-width="0.9"/>
<line x1="210.30" y1="217.81" x2="210.30" y2="221.61" stroke="#8c8c8c" stroke-width="0.9"/>
<line x1="212.50" y1="217.81" x2="212.50" y2="221.61" stroke="#8c8c8c" stroke-width="0.9"/>
<line x1="213.20" y1="217.81" x2="213.20" y2="221.61" stroke="#8c8c8c" stroke-width="0.9"/>
<line x1="219.60" y1="217.81" x2="219.60" y2="221.61" stroke="#8c8c8c" stroke-width="0.9"/>
<line x1="220.60" y1="217.81" x2="220.60" y2="221.61" stroke="#8c8c8c" stroke-width="0.9"/>
<line x1="223.50" y1="217.81" x2="223.50" y2="221.61" stroke="#8c8c8c" stroke-width="0.9"/>
<line x1="224.30" y1="217.81" x2="224.30" y2="221.61" stroke="#8c8c8c" stroke-width="0.9"/>
<line x1="226.70" y1="217.81" x2="226.70" y2="221.61" stroke="#8c8c8c" stroke-width="0.9"/>
<line x1="229.40" y1="217.81" x2="229.40" y2="221.61" stroke="#8c8c8c" stroke-width="0.9"/>
<line x1="234.30" y1="217.81" x2="234.30" y2="221.61" stroke="#8c8c8c" stroke-width="0.9"/>
<line x1="236.50" y1="217.81" x2="236.50" y2="221.61" stroke="#8c8c8c" stroke-width="0.9"/>
<line x1="240.20" y1="217.81" x2="240.20" y2="221.61" stroke="#8c8c8c" stroke-width="0.9"/>
<line x1="241.20" y1="217.81" x2="241.20" y2="221.61" stroke="#8c8c8c" stroke-width="0.9"/>
<line x1="244.60" y1="217.81" x2="244.60" y2="221.61" stroke="#8c8c8c" stroke-width="0.9"/>
<line x1="245.30" y1="217.81" x2="245.30" y2="221.61" stroke="#8c8c8c" stroke-width="0.9"/>
<line x1="255.40" y1="217.81" x2="255.40" y2="221.61" stroke="#8c8c8c" stroke-width="0.9"/>
<line x1="258.60" y1="217.81" x2="258.60" y2="221.61" stroke="#8c8c8c" stroke-width="0.9"/>
<line x1="261.40" y1="217.81" x2="261.40" y2="221.61" stroke="#8c8c8c" stroke-width="0.9"/>
<line x1="265.40" y1="217.81" x2="265.40" y2="221.61" stroke="#8c8c8c" stroke-width="0.9"/>
<line x1="268.60" y1="217.81" x2="268.60" y2="221.61" stroke="#8c8c8c" stroke-width="0.9"/>
<line x1="271.20" y1="217.81" x2="271.20" y2="221.61" stroke="#8c8c8c" stroke-width="0.9"/>
<line x1="273.20" y1="217.81" x2="273.20" y2="221.61" stroke="#8c8c8c" stroke-width="0.9"/>
<line x1="278.60" y1="217.81" x2="278.60" y2="221.61" stroke="#8c8c8c" stroke-width="0.9"/>
<line x1="280.10" y1="217.81" x2="280.10" y2="221.61" stroke="#8c8c8c" stroke-width="0.9"/>
<line x1="285.50" y1="217.81" x2="285.50" y2="221.61" stroke="#8c8c8c" stroke-width="0.9"/>
<line x1="287.20" y1="217.81" x2="287.20" y2="221.61" stroke="#8c8c8c" stroke-width="0.9"/>
<line x1="292.80" y1="217.81" x2="292.80" y2="221.61" stroke="#8c8c8c" stroke-width="0.9"/>
<line x1="301.60" y1="217.81" x2="301.60" y2="221.61" stroke="#8c8c8c" stroke-width="0.9"/>
<line x1="303.10" y1="217.81" x2="303.10" y2="221.61" stroke="#8c8c8c" stroke-width="0.9"/>
<line x1="305.50" y1="217.81" x2="305.50" y2="221.61" stroke="#8c8c8c" stroke-width="0.9"/>
<line x1="310.00" y1="217.81" x2="310.00" y2="221.61" stroke="#8c8c8c" stroke-width="0.9"/>
<line x1="311.90" y1="217.81" x2="311.90" y2="221.61" stroke="#8c8c8c" stroke-width="0.9"/>
<line x1="314.40" y1="217.81" x2="314.40" y2="221.61" stroke="#8c8c8c" stroke-width="0.9"/>
<line x1="315.40" y1="217.81" x2="315.40" y2="221.61" stroke="#8c8c8c" stroke-width="0.9"/>
<line x1="318.20" y1="217.81" x2="318.20" y2="221.61" stroke="#8c8c8c" stroke-width="0.9"/>
<line x1="321.90" y1="217.81" x2="321.90" y2="221.61" stroke="#8c8c8c" stroke-width="0.9"/>
<line x1="323.10" y1="217.81" x2="323.10" y2="221.61" stroke="#8c8c8c" stroke-width="0.9"/>
<line x1="330.50" y1="217.81" x2="330.50" y2="221.61" stroke="#8c8c8c" stroke-width="0.9"/>
<line x1="336.60" y1="217.81" x2="336.60" y2="221.61" stroke="#8c8c8c" stroke-width="0.9"/>
<line x1="337.60" y1="217.81" x2="337.60" y2="221.61" stroke="#8c8c8c" stroke-width="0.9"/>
<line x1="339.50" y1="217.81" x2="339.50" y2="221.61" stroke="#8c8c8c" stroke-width="0.9"/>
<line x1="340.30" y1="217.81" x2="340.30" y2="221.61" stroke="#8c8c8c" stroke-width="0.9"/>
<line x1="344.90" y1="217.81" x2="344.90" y2="221.61" stroke="#8c8c8c" stroke-width="0.9"/>
<polyline points="126.86,267.31 127.32,267.24 127.71,265.61 128.10,262.99 128.37,261.03 128.63,262.99 128.82,264.30 129.15,263.65 129.48,265.61 129.80,267.24 130.13,267.31" fill="none" stroke="#333" stroke-width="0.75" stroke-linejoin="round"/>
<polyline points="133.73,267.31 134.05,267.24 134.01,266.05 134.18,264.44 134.04,262.87 134.31,261.06 134.38,259.07 134.57,257.17 134.71,254.82 135.16,255.15 135.18,257.41 135.42,259.07 135.34,260.42 135.56,262.34 135.82,263.65 136.21,262.34 136.24,263.85 136.67,265.61 137.32,267.24 137.65,267.31" fill="none" stroke="#333" stroke-width="0.75" stroke-linejoin="round"/>
<polyline points="156.96,267.31 157.29,267.24 158.27,266.26 159.25,265.61 159.90,264.95 160.56,265.28 160.88,267.24 161.21,267.31" fill="none" stroke="#333" stroke-width="0.75" stroke-linejoin="round"/>
<polyline points="179.84,267.31 180.16,267.24 180.28,265.36 180.55,263.48 180.49,262.34 180.78,260.39 181.01,259.07 181.13,257.70 181.27,255.12 181.15,254.04 181.34,252.21 181.62,253.37 181.55,255.87 181.72,257.17 181.67,259.07 182.03,260.66 182.12,262.34 182.45,263.39 182.61,265.50 182.58,267.24 182.91,267.31" fill="none" stroke="#333" stroke-width="0.75" stroke-linejoin="round"/>
<polyline points="202.42,267.12 203.07,266.73 204.12,265.95 204.64,265.16 205.42,265.69 205.95,267.12" fill="none" stroke="#333" stroke-width="0.75" stroke-linejoin="round"/>
<path d="M85.20,169.06V267.56" fill="none" stroke="#3a3a3a" stroke-width="1"/>
<path d="M84.90,267.56H566.40" fill="none" stroke="#111" stroke-width="1"/>
<line x1="85.20" y1="169.06" x2="87.80" y2="169.06" stroke="#8a8a8a" stroke-width="1"/>
<text x="82.4" y="172.56" font-size="9.8" text-anchor="end" font-family="Liberation Sans, Arial, Helvetica, sans-serif" stroke="#000" stroke-width="0.2">1.0</text>
<line x1="85.20" y1="218.31" x2="87.80" y2="218.31" stroke="#8a8a8a" stroke-width="1"/>
<text x="82.9" y="221.91" font-size="9.8" letter-spacing="0.5" text-anchor="end" font-family="Liberation Sans, Arial, Helvetica, sans-serif" stroke="#000" stroke-width="0.2">0.5</text>
<text x="82.9" y="271.16" font-size="9.8" letter-spacing="0.5" text-anchor="end" font-family="Liberation Sans, Arial, Helvetica, sans-serif" stroke="#000" stroke-width="0.2">0.0</text>
<line x1="139.50" y1="267.56" x2="139.50" y2="259.06" stroke="#8a8a8a" stroke-width="1"/>
<text x="139.50" y="279.06" font-size="9.8" text-anchor="middle" font-family="Liberation Sans, Arial, Helvetica, sans-serif" stroke="#000" stroke-width="0.2">1000</text>
<line x1="196.50" y1="267.56" x2="196.50" y2="259.06" stroke="#8a8a8a" stroke-width="1"/>
<text x="196.50" y="279.06" font-size="9.8" text-anchor="middle" font-family="Liberation Sans, Arial, Helvetica, sans-serif" stroke="#000" stroke-width="0.2">2000</text>
<line x1="253.50" y1="267.56" x2="253.50" y2="259.06" stroke="#8a8a8a" stroke-width="1"/>
<text x="253.50" y="279.06" font-size="9.8" text-anchor="middle" font-family="Liberation Sans, Arial, Helvetica, sans-serif" stroke="#000" stroke-width="0.2">3000</text>
<line x1="310.50" y1="267.56" x2="310.50" y2="259.06" stroke="#8a8a8a" stroke-width="1"/>
<text x="310.50" y="279.06" font-size="9.8" text-anchor="middle" font-family="Liberation Sans, Arial, Helvetica, sans-serif" stroke="#000" stroke-width="0.2">4000</text>
<line x1="367.50" y1="267.56" x2="367.50" y2="259.06" stroke="#8a8a8a" stroke-width="1"/>
<text x="367.50" y="279.06" font-size="9.8" text-anchor="middle" font-family="Liberation Sans, Arial, Helvetica, sans-serif" stroke="#000" stroke-width="0.2">5000</text>
<line x1="424.50" y1="267.56" x2="424.50" y2="259.06" stroke="#8a8a8a" stroke-width="1"/>
<text x="424.50" y="279.06" font-size="9.8" text-anchor="middle" font-family="Liberation Sans, Arial, Helvetica, sans-serif" stroke="#000" stroke-width="0.2">6000</text>
<line x1="481.50" y1="267.56" x2="481.50" y2="259.06" stroke="#8a8a8a" stroke-width="1"/>
<text x="481.50" y="279.06" font-size="9.8" text-anchor="middle" font-family="Liberation Sans, Arial, Helvetica, sans-serif" stroke="#000" stroke-width="0.2">7000</text>
<line x1="538.50" y1="267.56" x2="538.50" y2="259.06" stroke="#8a8a8a" stroke-width="1"/>
<text x="538.50" y="279.06" font-size="9.8" text-anchor="middle" font-family="Liberation Sans, Arial, Helvetica, sans-serif" stroke="#000" stroke-width="0.2">8000</text>
<line x1="125.60" y1="267.56" x2="125.60" y2="264.56" stroke="#8a8a8a" stroke-width="1"/>
<line x1="165.70" y1="267.56" x2="165.70" y2="264.56" stroke="#8a8a8a" stroke-width="1"/>
<line x1="205.80" y1="267.56" x2="205.80" y2="264.56" stroke="#8a8a8a" stroke-width="1"/>
<line x1="245.90" y1="267.56" x2="245.90" y2="264.56" stroke="#8a8a8a" stroke-width="1"/>
<line x1="286.00" y1="267.56" x2="286.00" y2="264.56" stroke="#8a8a8a" stroke-width="1"/>
<line x1="326.10" y1="267.56" x2="326.10" y2="264.56" stroke="#8a8a8a" stroke-width="1"/>
<line x1="366.20" y1="267.56" x2="366.20" y2="264.56" stroke="#8a8a8a" stroke-width="1"/>
<line x1="406.30" y1="267.56" x2="406.30" y2="264.56" stroke="#8a8a8a" stroke-width="1"/>
<line x1="446.40" y1="267.56" x2="446.40" y2="264.56" stroke="#8a8a8a" stroke-width="1"/>
<line x1="486.50" y1="267.56" x2="486.50" y2="264.56" stroke="#8a8a8a" stroke-width="1"/>
<line x1="526.60" y1="267.56" x2="526.60" y2="264.56" stroke="#8a8a8a" stroke-width="1"/>
<line x1="566.40" y1="267.56" x2="566.40" y2="264.56" stroke="#8a8a8a" stroke-width="1"/>
<line x1="93.00" y1="331.17" x2="93.00" y2="334.97" stroke="#8c8c8c" stroke-width="0.9"/>
<line x1="100.90" y1="331.17" x2="100.90" y2="334.97" stroke="#8c8c8c" stroke-width="0.9"/>
<line x1="104.40" y1="331.17" x2="104.40" y2="334.97" stroke="#8c8c8c" stroke-width="0.9"/>
<line x1="107.30" y1="331.17" x2="107.30" y2="334.97" stroke="#8c8c8c" stroke-width="0.9"/>
<line x1="112.40" y1="331.17" x2="112.40" y2="334.97" stroke="#8c8c8c" stroke-width="0.9"/>
<line x1="115.20" y1="331.17" x2="115.20" y2="334.97" stroke="#8c8c8c" stroke-width="0.9"/>
<line x1="118.50" y1="331.17" x2="118.50" y2="334.97" stroke="#8c8c8c" stroke-width="0.9"/>
<line x1="119.80" y1="331.17" x2="119.80" y2="334.97" stroke="#8c8c8c" stroke-width="0.9"/>
<line x1="122.70" y1="331.17" x2="122.70" y2="334.97" stroke="#8c8c8c" stroke-width="0.9"/>
<line x1="123.70" y1="331.17" x2="123.70" y2="334.97" stroke="#8c8c8c" stroke-width="0.9"/>
<line x1="124.70" y1="331.17" x2="124.70" y2="334.97" stroke="#8c8c8c" stroke-width="0.9"/>
<line x1="126.20" y1="331.17" x2="126.20" y2="334.97" stroke="#8c8c8c" stroke-width="0.9"/>
<line x1="127.10" y1="331.17" x2="127.10" y2="334.97" stroke="#8c8c8c" stroke-width="0.9"/>
<line x1="129.30" y1="331.17" x2="129.30" y2="334.97" stroke="#8c8c8c" stroke-width="0.9"/>
<line x1="132.50" y1="331.17" x2="132.50" y2="334.97" stroke="#8c8c8c" stroke-width="0.9"/>
<line x1="133.50" y1="331.17" x2="133.50" y2="334.97" stroke="#8c8c8c" stroke-width="0.9"/>
<line x1="136.00" y1="331.17" x2="136.00" y2="334.97" stroke="#8c8c8c" stroke-width="0.9"/>
<line x1="137.70" y1="331.17" x2="137.70" y2="334.97" stroke="#8c8c8c" stroke-width="0.9"/>
<line x1="138.90" y1="331.17" x2="138.90" y2="334.97" stroke="#8c8c8c" stroke-width="0.9"/>
<line x1="140.40" y1="331.17" x2="140.40" y2="334.97" stroke="#8c8c8c" stroke-width="0.9"/>
<line x1="141.80" y1="331.17" x2="141.80" y2="334.97" stroke="#8c8c8c" stroke-width="0.9"/>
<line x1="142.80" y1="331.17" x2="142.80" y2="334.97" stroke="#8c8c8c" stroke-width="0.9"/>
<line x1="143.80" y1="331.17" x2="143.80" y2="334.97" stroke="#8c8c8c" stroke-width="0.9"/>
<line x1="145.40" y1="331.17" x2="145.40" y2="334.97" stroke="#8c8c8c" stroke-width="0.9"/>
<line x1="147.40" y1="331.17" x2="147.40" y2="334.97" stroke="#8c8c8c" stroke-width="0.9"/>
<line x1="148.40" y1="331.17" x2="148.40" y2="334.97" stroke="#8c8c8c" stroke-width="0.9"/>
<line x1="150.30" y1="331.17" x2="150.30" y2="334.97" stroke="#8c8c8c" stroke-width="0.9"/>
<line x1="151.30" y1="331.17" x2="151.30" y2="334.97" stroke="#8c8c8c" stroke-width="0.9"/>
<line x1="153.60" y1="331.17" x2="153.60" y2="334.97" stroke="#8c8c8c" stroke-width="0.9"/>
<line x1="155.70" y1="331.17" x2="155.70" y2="334.97" stroke="#8c8c8c" stroke-width="0.9"/>
<line x1="156.70" y1="331.17" x2="156.70" y2="334.97" stroke="#8c8c8c" stroke-width="0.9"/>
<line x1="157.70" y1="331.17" x2="157.70" y2="334.97" stroke="#8c8c8c" stroke-width="0.9"/>
<line x1="160.10" y1="331.17" x2="160.10" y2="334.97" stroke="#8c8c8c" stroke-width="0.9"/>
<line x1="161.10" y1="331.17" x2="161.10" y2="334.97" stroke="#8c8c8c" stroke-width="0.9"/>
<line x1="163.40" y1="331.17" x2="163.40" y2="334.97" stroke="#8c8c8c" stroke-width="0.9"/>
<line x1="165.50" y1="331.17" x2="165.50" y2="334.97" stroke="#8c8c8c" stroke-width="0.9"/>
<line x1="168.30" y1="331.17" x2="168.30" y2="334.97" stroke="#8c8c8c" stroke-width="0.9"/>
<line x1="171.40" y1="331.17" x2="171.40" y2="334.97" stroke="#8c8c8c" stroke-width="0.9"/>
<line x1="172.40" y1="331.17" x2="172.40" y2="334.97" stroke="#8c8c8c" stroke-width="0.9"/>
<line x1="174.40" y1="331.17" x2="174.40" y2="334.97" stroke="#8c8c8c" stroke-width="0.9"/>
<line x1="175.30" y1="331.17" x2="175.30" y2="334.97" stroke="#8c8c8c" stroke-width="0.9"/>
<line x1="179.30" y1="331.17" x2="179.30" y2="334.97" stroke="#8c8c8c" stroke-width="0.9"/>
<line x1="185.60" y1="331.17" x2="185.60" y2="334.97" stroke="#8c8c8c" stroke-width="0.9"/>
<line x1="198.40" y1="331.17" x2="198.40" y2="334.97" stroke="#8c8c8c" stroke-width="0.9"/>
<line x1="203.40" y1="331.17" x2="203.40" y2="334.97" stroke="#8c8c8c" stroke-width="0.9"/>
<line x1="205.40" y1="331.17" x2="205.40" y2="334.97" stroke="#8c8c8c" stroke-width="0.9"/>
<line x1="209.60" y1="331.17" x2="209.60" y2="334.97" stroke="#8c8c8c" stroke-width="0.9"/>
<line x1="210.60" y1="331.17" x2="210.60" y2="334.97" stroke="#8c8c8c" stroke-width="0.9"/>
<line x1="213.70" y1="331.17" x2="213.70" y2="334.97" stroke="#8c8c8c" stroke-width="0.9"/>
<line x1="214.70" y1="331.17" x2="214.70" y2="334.97" stroke="#8c8c8c" stroke-width="0.9"/>
<line x1="216.20" y1="331.17" x2="216.20" y2="334.97" stroke="#8c8c8c" stroke-width="0.9"/>
<line x1="218.10" y1="331.17" x2="218.10" y2="334.97" stroke="#8c8c8c" stroke-width="0.9"/>
<line x1="220.60" y1="331.17" x2="220.60" y2="334.97" stroke="#8c8c8c" stroke-width="0.9"/>
<line x1="221.60" y1="331.17" x2="221.60" y2="334.97" stroke="#8c8c8c" stroke-width="0.9"/>
<line x1="222.50" y1="331.17" x2="222.50" y2="334.97" stroke="#8c8c8c" stroke-width="0.9"/>
<line x1="225.70" y1="331.17" x2="225.70" y2="334.97" stroke="#8c8c8c" stroke-width="0.9"/>
<line x1="230.40" y1="331.17" x2="230.40" y2="334.97" stroke="#8c8c8c" stroke-width="0.9"/>
<line x1="233.80" y1="331.17" x2="233.80" y2="334.97" stroke="#8c8c8c" stroke-width="0.9"/>
<line x1="234.50" y1="331.17" x2="234.50" y2="334.97" stroke="#8c8c8c" stroke-width="0.9"/>
<line x1="239.40" y1="331.17" x2="239.40" y2="334.97" stroke="#8c8c8c" stroke-width="0.9"/>
<line x1="245.30" y1="331.17" x2="245.30" y2="334.97" stroke="#8c8c8c" stroke-width="0.9"/>
<line x1="248.50" y1="331.17" x2="248.50" y2="334.97" stroke="#8c8c8c" stroke-width="0.9"/>
<line x1="249.20" y1="331.17" x2="249.20" y2="334.97" stroke="#8c8c8c" stroke-width="0.9"/>
<line x1="253.40" y1="331.17" x2="253.40" y2="334.97" stroke="#8c8c8c" stroke-width="0.9"/>
<line x1="259.40" y1="331.17" x2="259.40" y2="334.97" stroke="#8c8c8c" stroke-width="0.9"/>
<line x1="262.40" y1="331.17" x2="262.40" y2="334.97" stroke="#8c8c8c" stroke-width="0.9"/>
<line x1="264.10" y1="331.17" x2="264.10" y2="334.97" stroke="#8c8c8c" stroke-width="0.9"/>
<line x1="266.30" y1="331.17" x2="266.30" y2="334.97" stroke="#8c8c8c" stroke-width="0.9"/>
<line x1="268.30" y1="331.17" x2="268.30" y2="334.97" stroke="#8c8c8c" stroke-width="0.9"/>
<line x1="273.50" y1="331.17" x2="273.50" y2="334.97" stroke="#8c8c8c" stroke-width="0.9"/>
<line x1="274.50" y1="331.17" x2="274.50" y2="334.97" stroke="#8c8c8c" stroke-width="0.9"/>
<line x1="276.60" y1="331.17" x2="276.60" y2="334.97" stroke="#8c8c8c" stroke-width="0.9"/>
<line x1="281.50" y1="331.17" x2="281.50" y2="334.97" stroke="#8c8c8c" stroke-width="0.9"/>
<line x1="284.50" y1="331.17" x2="284.50" y2="334.97" stroke="#8c8c8c" stroke-width="0.9"/>
<line x1="288.40" y1="331.17" x2="288.40" y2="334.97" stroke="#8c8c8c" stroke-width="0.9"/>
<line x1="292.50" y1="331.17" x2="292.50" y2="334.97" stroke="#8c8c8c" stroke-width="0.9"/>
<line x1="294.30" y1="331.17" x2="294.30" y2="334.97" stroke="#8c8c8c" stroke-width="0.9"/>
<line x1="296.40" y1="331.17" x2="296.40" y2="334.97" stroke="#8c8c8c" stroke-width="0.9"/>
<line x1="297.40" y1="331.17" x2="297.40" y2="334.97" stroke="#8c8c8c" stroke-width="0.9"/>
<line x1="300.60" y1="331.17" x2="300.60" y2="334.97" stroke="#8c8c8c" stroke-width="0.9"/>
<line x1="301.30" y1="331.17" x2="301.30" y2="334.97" stroke="#8c8c8c" stroke-width="0.9"/>
<line x1="306.20" y1="331.17" x2="306.20" y2="334.97" stroke="#8c8c8c" stroke-width="0.9"/>
<line x1="310.50" y1="331.17" x2="310.50" y2="334.97" stroke="#8c8c8c" stroke-width="0.9"/>
<line x1="315.40" y1="331.17" x2="315.40" y2="334.97" stroke="#8c8c8c" stroke-width="0.9"/>
<line x1="318.20" y1="331.17" x2="318.20" y2="334.97" stroke="#8c8c8c" stroke-width="0.9"/>
<line x1="324.30" y1="331.17" x2="324.30" y2="334.97" stroke="#8c8c8c" stroke-width="0.9"/>
<line x1="325.30" y1="331.17" x2="325.30" y2="334.97" stroke="#8c8c8c" stroke-width="0.9"/>
<line x1="326.30" y1="331.17" x2="326.30" y2="334.97" stroke="#8c8c8c" stroke-width="0.9"/>
<line x1="328.50" y1="331.17" x2="328.50" y2="334.97" stroke="#8c8c8c" stroke-width="0.9"/>
<line x1="343.50" y1="331.17" x2="343.50" y2="334.97" stroke="#8c8c8c" stroke-width="0.9"/>
<line x1="346.40" y1="331.17" x2="346.40" y2="334.97" stroke="#8c8c8c" stroke-width="0.9"/>
<polyline points="85.23,380.45 85.28,377.91 85.30,376.64 85.50,374.32 85.84,372.27 86.03,373.67 86.00,375.48 86.18,377.73 86.15,375.57 86.29,374.66 86.45,372.27 87.07,373.64 87.75,370.91 88.30,369.55 88.43,367.50 88.66,369.20 88.91,370.91 89.30,373.10 89.45,374.32 89.73,376.19 89.80,377.73 90.48,380.11 90.82,380.45" fill="none" stroke="#333" stroke-width="0.75" stroke-linejoin="round"/>
<polyline points="96.82,380.45 97.16,377.73 97.05,376.24 97.34,374.81 97.04,373.09 97.17,370.79 97.44,369.77 97.37,367.49 97.42,366.82 97.47,364.96 97.46,363.39 97.38,361.32 97.49,360.11 97.53,357.89 97.59,356.54 97.60,354.41 97.62,353.58 97.34,352.01 97.35,349.61 97.46,348.02 97.50,346.70 97.98,346.36 98.02,348.76 98.14,350.43 98.05,352.43 98.26,354.22 98.18,355.91 98.38,357.96 98.16,358.73 98.28,361.28 98.15,362.65 98.37,364.54 98.03,365.83 98.05,367.03 98.39,369.06 98.31,370.76 98.21,372.12 98.23,374.54 98.35,375.53 98.14,377.16 98.32,379.09 98.59,380.45" fill="none" stroke="#333" stroke-width="0.75" stroke-linejoin="round"/>
<polyline points="189.31,380.34 189.56,380.29 190.29,378.63 190.54,376.18 190.74,373.98 190.84,372.30 190.88,369.80 191.18,369.07 191.37,370.78 191.26,372.80 191.28,374.77 191.52,376.18 192.01,376.18 192.75,376.91 193.48,377.65 194.22,379.12 194.71,380.29 194.95,380.34" fill="none" stroke="#333" stroke-width="0.75" stroke-linejoin="round"/>
<path d="M85.20,282.42V380.92" fill="none" stroke="#3a3a3a" stroke-width="1"/>
<path d="M84.90,380.92H566.40" fill="none" stroke="#111" stroke-width="1"/>
<line x1="85.20" y1="282.42" x2="87.80" y2="282.42" stroke="#8a8a8a" stroke-width="1"/>
<text x="82.4" y="285.92" font-size="9.8" text-anchor="end" font-family="Liberation Sans, Arial, Helvetica, sans-serif" stroke="#000" stroke-width="0.2">1.0</text>
<line x1="85.20" y1="331.67" x2="87.80" y2="331.67" stroke="#8a8a8a" stroke-width="1"/>
<text x="82.9" y="335.27" font-size="9.8" letter-spacing="0.5" text-anchor="end" font-family="Liberation Sans, Arial, Helvetica, sans-serif" stroke="#000" stroke-width="0.2">0.5</text>
<text x="82.9" y="384.52" font-size="9.8" letter-spacing="0.5" text-anchor="end" font-family="Liberation Sans, Arial, Helvetica, sans-serif" stroke="#000" stroke-width="0.2">0.0</text>
<line x1="139.50" y1="380.92" x2="139.50" y2="372.42" stroke="#8a8a8a" stroke-width="1"/>
<text x="139.50" y="392.42" font-size="9.8" text-anchor="middle" font-family="Liberation Sans, Arial, Helvetica, sans-serif" stroke="#000" stroke-width="0.2">1000</text>
<line x1="196.50" y1="380.92" x2="196.50" y2="372.42" stroke="#8a8a8a" stroke-width="1"/>
<text x="196.50" y="392.42" font-size="9.8" text-anchor="middle" font-family="Liberation Sans, Arial, Helvetica, sans-serif" stroke="#000" stroke-width="0.2">2000</text>
<line x1="253.50" y1="380.92" x2="253.50" y2="372.42" stroke="#8a8a8a" stroke-width="1"/>
<text x="253.50" y="392.42" font-size="9.8" text-anchor="middle" font-family="Liberation Sans, Arial, Helvetica, sans-serif" stroke="#000" stroke-width="0.2">3000</text>
<line x1="310.50" y1="380.92" x2="310.50" y2="372.42" stroke="#8a8a8a" stroke-width="1"/>
<text x="310.50" y="392.42" font-size="9.8" text-anchor="middle" font-family="Liberation Sans, Arial, Helvetica, sans-serif" stroke="#000" stroke-width="0.2">4000</text>
<line x1="367.50" y1="380.92" x2="367.50" y2="372.42" stroke="#8a8a8a" stroke-width="1"/>
<text x="367.50" y="392.42" font-size="9.8" text-anchor="middle" font-family="Liberation Sans, Arial, Helvetica, sans-serif" stroke="#000" stroke-width="0.2">5000</text>
<line x1="424.50" y1="380.92" x2="424.50" y2="372.42" stroke="#8a8a8a" stroke-width="1"/>
<text x="424.50" y="392.42" font-size="9.8" text-anchor="middle" font-family="Liberation Sans, Arial, Helvetica, sans-serif" stroke="#000" stroke-width="0.2">6000</text>
<line x1="481.50" y1="380.92" x2="481.50" y2="372.42" stroke="#8a8a8a" stroke-width="1"/>
<text x="481.50" y="392.42" font-size="9.8" text-anchor="middle" font-family="Liberation Sans, Arial, Helvetica, sans-serif" stroke="#000" stroke-width="0.2">7000</text>
<line x1="538.50" y1="380.92" x2="538.50" y2="372.42" stroke="#8a8a8a" stroke-width="1"/>
<text x="538.50" y="392.42" font-size="9.8" text-anchor="middle" font-family="Liberation Sans, Arial, Helvetica, sans-serif" stroke="#000" stroke-width="0.2">8000</text>
<line x1="125.60" y1="380.92" x2="125.60" y2="377.92" stroke="#8a8a8a" stroke-width="1"/>
<line x1="165.70" y1="380.92" x2="165.70" y2="377.92" stroke="#8a8a8a" stroke-width="1"/>
<line x1="205.80" y1="380.92" x2="205.80" y2="377.92" stroke="#8a8a8a" stroke-width="1"/>
<line x1="245.90" y1="380.92" x2="245.90" y2="377.92" stroke="#8a8a8a" stroke-width="1"/>
<line x1="286.00" y1="380.92" x2="286.00" y2="377.92" stroke="#8a8a8a" stroke-width="1"/>
<line x1="326.10" y1="380.92" x2="326.10" y2="377.92" stroke="#8a8a8a" stroke-width="1"/>
<line x1="366.20" y1="380.92" x2="366.20" y2="377.92" stroke="#8a8a8a" stroke-width="1"/>
<line x1="406.30" y1="380.92" x2="406.30" y2="377.92" stroke="#8a8a8a" stroke-width="1"/>
<line x1="446.40" y1="380.92" x2="446.40" y2="377.92" stroke="#8a8a8a" stroke-width="1"/>
<line x1="486.50" y1="380.92" x2="486.50" y2="377.92" stroke="#8a8a8a" stroke-width="1"/>
<line x1="526.60" y1="380.92" x2="526.60" y2="377.92" stroke="#8a8a8a" stroke-width="1"/>
<line x1="566.40" y1="380.92" x2="566.40" y2="377.92" stroke="#8a8a8a" stroke-width="1"/>
<line x1="89.40" y1="444.53" x2="89.40" y2="448.33" stroke="#8c8c8c" stroke-width="0.9"/>
<line x1="92.60" y1="444.53" x2="92.60" y2="448.33" stroke="#8c8c8c" stroke-width="0.9"/>
<line x1="95.30" y1="444.53" x2="95.30" y2="448.33" stroke="#8c8c8c" stroke-width="0.9"/>
<line x1="97.20" y1="444.53" x2="97.20" y2="448.33" stroke="#8c8c8c" stroke-width="0.9"/>
<line x1="99.70" y1="444.53" x2="99.70" y2="448.33" stroke="#8c8c8c" stroke-width="0.9"/>
<line x1="101.20" y1="444.53" x2="101.20" y2="448.33" stroke="#8c8c8c" stroke-width="0.9"/>
<line x1="107.50" y1="444.53" x2="107.50" y2="448.33" stroke="#8c8c8c" stroke-width="0.9"/>
<line x1="108.20" y1="444.53" x2="108.20" y2="448.33" stroke="#8c8c8c" stroke-width="0.9"/>
<line x1="126.20" y1="444.53" x2="126.20" y2="448.33" stroke="#8c8c8c" stroke-width="0.9"/>
<line x1="129.30" y1="444.53" x2="129.30" y2="448.33" stroke="#8c8c8c" stroke-width="0.9"/>
<line x1="131.50" y1="444.53" x2="131.50" y2="448.33" stroke="#8c8c8c" stroke-width="0.9"/>
<line x1="141.40" y1="444.53" x2="141.40" y2="448.33" stroke="#8c8c8c" stroke-width="0.9"/>
<line x1="142.80" y1="444.53" x2="142.80" y2="448.33" stroke="#8c8c8c" stroke-width="0.9"/>
<line x1="143.80" y1="444.53" x2="143.80" y2="448.33" stroke="#8c8c8c" stroke-width="0.9"/>
<line x1="148.40" y1="444.53" x2="148.40" y2="448.33" stroke="#8c8c8c" stroke-width="0.9"/>
<line x1="152.30" y1="444.53" x2="152.30" y2="448.33" stroke="#8c8c8c" stroke-width="0.9"/>
<line x1="158.90" y1="444.53" x2="158.90" y2="448.33" stroke="#8c8c8c" stroke-width="0.9"/>
<line x1="159.80" y1="444.53" x2="159.80" y2="448.33" stroke="#8c8c8c" stroke-width="0.9"/>
<line x1="163.40" y1="444.53" x2="163.40" y2="448.33" stroke="#8c8c8c" stroke-width="0.9"/>
<line x1="166.70" y1="444.53" x2="166.70" y2="448.33" stroke="#8c8c8c" stroke-width="0.9"/>
<line x1="167.70" y1="444.53" x2="167.70" y2="448.33" stroke="#8c8c8c" stroke-width="0.9"/>
<line x1="168.70" y1="444.53" x2="168.70" y2="448.33" stroke="#8c8c8c" stroke-width="0.9"/>
<line x1="169.90" y1="444.53" x2="169.90" y2="448.33" stroke="#8c8c8c" stroke-width="0.9"/>
<line x1="172.40" y1="444.53" x2="172.40" y2="448.33" stroke="#8c8c8c" stroke-width="0.9"/>
<line x1="173.20" y1="444.53" x2="173.20" y2="448.33" stroke="#8c8c8c" stroke-width="0.9"/>
<line x1="174.40" y1="444.53" x2="174.40" y2="448.33" stroke="#8c8c8c" stroke-width="0.9"/>
<line x1="180.40" y1="444.53" x2="180.40" y2="448.33" stroke="#8c8c8c" stroke-width="0.9"/>
<line x1="185.60" y1="444.53" x2="185.60" y2="448.33" stroke="#8c8c8c" stroke-width="0.9"/>
<line x1="186.30" y1="444.53" x2="186.30" y2="448.33" stroke="#8c8c8c" stroke-width="0.9"/>
<line x1="189.50" y1="444.53" x2="189.50" y2="448.33" stroke="#8c8c8c" stroke-width="0.9"/>
<line x1="190.20" y1="444.53" x2="190.20" y2="448.33" stroke="#8c8c8c" stroke-width="0.9"/>
<line x1="195.40" y1="444.53" x2="195.40" y2="448.33" stroke="#8c8c8c" stroke-width="0.9"/>
<line x1="202.20" y1="444.53" x2="202.20" y2="448.33" stroke="#8c8c8c" stroke-width="0.9"/>
<line x1="204.40" y1="444.53" x2="204.40" y2="448.33" stroke="#8c8c8c" stroke-width="0.9"/>
<line x1="205.40" y1="444.53" x2="205.40" y2="448.33" stroke="#8c8c8c" stroke-width="0.9"/>
<line x1="207.40" y1="444.53" x2="207.40" y2="448.33" stroke="#8c8c8c" stroke-width="0.9"/>
<line x1="209.30" y1="444.53" x2="209.30" y2="448.33" stroke="#8c8c8c" stroke-width="0.9"/>
<line x1="211.60" y1="444.53" x2="211.60" y2="448.33" stroke="#8c8c8c" stroke-width="0.9"/>
<line x1="213.70" y1="444.53" x2="213.70" y2="448.33" stroke="#8c8c8c" stroke-width="0.9"/>
<line x1="214.70" y1="444.53" x2="214.70" y2="448.33" stroke="#8c8c8c" stroke-width="0.9"/>
<line x1="218.10" y1="444.53" x2="218.10" y2="448.33" stroke="#8c8c8c" stroke-width="0.9"/>
<line x1="225.30" y1="444.53" x2="225.30" y2="448.33" stroke="#8c8c8c" stroke-width="0.9"/>
<line x1="228.40" y1="444.53" x2="228.40" y2="448.33" stroke="#8c8c8c" stroke-width="0.9"/>
<line x1="235.30" y1="444.53" x2="235.30" y2="448.33" stroke="#8c8c8c" stroke-width="0.9"/>
<line x1="240.20" y1="444.53" x2="240.20" y2="448.33" stroke="#8c8c8c" stroke-width="0.9"/>
<line x1="245.30" y1="444.53" x2="245.30" y2="448.33" stroke="#8c8c8c" stroke-width="0.9"/>
<line x1="246.30" y1="444.53" x2="246.30" y2="448.33" stroke="#8c8c8c" stroke-width="0.9"/>
<line x1="248.20" y1="444.53" x2="248.20" y2="448.33" stroke="#8c8c8c" stroke-width="0.9"/>
<line x1="252.50" y1="444.53" x2="252.50" y2="448.33" stroke="#8c8c8c" stroke-width="0.9"/>
<line x1="253.40" y1="444.53" x2="253.40" y2="448.33" stroke="#8c8c8c" stroke-width="0.9"/>
<line x1="257.40" y1="444.53" x2="257.40" y2="448.33" stroke="#8c8c8c" stroke-width="0.9"/>
<line x1="262.40" y1="444.53" x2="262.40" y2="448.33" stroke="#8c8c8c" stroke-width="0.9"/>
<line x1="264.40" y1="444.53" x2="264.40" y2="448.33" stroke="#8c8c8c" stroke-width="0.9"/>
<line x1="266.60" y1="444.53" x2="266.60" y2="448.33" stroke="#8c8c8c" stroke-width="0.9"/>
<line x1="269.60" y1="444.53" x2="269.60" y2="448.33" stroke="#8c8c8c" stroke-width="0.9"/>
<line x1="272.20" y1="444.53" x2="272.20" y2="448.33" stroke="#8c8c8c" stroke-width="0.9"/>
<line x1="274.20" y1="444.53" x2="274.20" y2="448.33" stroke="#8c8c8c" stroke-width="0.9"/>
<line x1="276.40" y1="444.53" x2="276.40" y2="448.33" stroke="#8c8c8c" stroke-width="0.9"/>
<line x1="281.50" y1="444.53" x2="281.50" y2="448.33" stroke="#8c8c8c" stroke-width="0.9"/>
<line x1="282.30" y1="444.53" x2="282.30" y2="448.33" stroke="#8c8c8c" stroke-width="0.9"/>
<line x1="285.50" y1="444.53" x2="285.50" y2="448.33" stroke="#8c8c8c" stroke-width="0.9"/>
<line x1="289.40" y1="444.53" x2="289.40" y2="448.33" stroke="#8c8c8c" stroke-width="0.9"/>
<line x1="293.30" y1="444.53" x2="293.30" y2="448.33" stroke="#8c8c8c" stroke-width="0.9"/>
<line x1="295.70" y1="444.53" x2="295.70" y2="448.33" stroke="#8c8c8c" stroke-width="0.9"/>
<line x1="296.70" y1="444.53" x2="296.70" y2="448.33" stroke="#8c8c8c" stroke-width="0.9"/>
<line x1="299.00" y1="444.53" x2="299.00" y2="448.33" stroke="#8c8c8c" stroke-width="0.9"/>
<line x1="300.00" y1="444.53" x2="300.00" y2="448.33" stroke="#8c8c8c" stroke-width="0.9"/>
<line x1="301.10" y1="444.53" x2="301.10" y2="448.33" stroke="#8c8c8c" stroke-width="0.9"/>
<line x1="302.10" y1="444.53" x2="302.10" y2="448.33" stroke="#8c8c8c" stroke-width="0.9"/>
<line x1="304.30" y1="444.53" x2="304.30" y2="448.33" stroke="#8c8c8c" stroke-width="0.9"/>
<line x1="307.50" y1="444.53" x2="307.50" y2="448.33" stroke="#8c8c8c" stroke-width="0.9"/>
<line x1="310.50" y1="444.53" x2="310.50" y2="448.33" stroke="#8c8c8c" stroke-width="0.9"/>
<line x1="313.70" y1="444.53" x2="313.70" y2="448.33" stroke="#8c8c8c" stroke-width="0.9"/>
<line x1="316.30" y1="444.53" x2="316.30" y2="448.33" stroke="#8c8c8c" stroke-width="0.9"/>
<line x1="319.40" y1="444.53" x2="319.40" y2="448.33" stroke="#8c8c8c" stroke-width="0.9"/>
<line x1="323.40" y1="444.53" x2="323.40" y2="448.33" stroke="#8c8c8c" stroke-width="0.9"/>
<line x1="324.30" y1="444.53" x2="324.30" y2="448.33" stroke="#8c8c8c" stroke-width="0.9"/>
<line x1="326.60" y1="444.53" x2="326.60" y2="448.33" stroke="#8c8c8c" stroke-width="0.9"/>
<line x1="327.30" y1="444.53" x2="327.30" y2="448.33" stroke="#8c8c8c" stroke-width="0.9"/>
<line x1="329.20" y1="444.53" x2="329.20" y2="448.33" stroke="#8c8c8c" stroke-width="0.9"/>
<line x1="333.50" y1="444.53" x2="333.50" y2="448.33" stroke="#8c8c8c" stroke-width="0.9"/>
<line x1="337.10" y1="444.53" x2="337.10" y2="448.33" stroke="#8c8c8c" stroke-width="0.9"/>
<line x1="339.30" y1="444.53" x2="339.30" y2="448.33" stroke="#8c8c8c" stroke-width="0.9"/>
<line x1="344.40" y1="444.53" x2="344.40" y2="448.33" stroke="#8c8c8c" stroke-width="0.9"/>
<polyline points="85.44,416.95 85.84,416.29 86.23,418.26 86.13,419.63 86.49,421.38 86.21,423.65 86.41,425.30 86.35,426.47 86.62,428.12 86.67,429.38 86.49,431.39 86.66,432.63 86.55,434.08 86.42,436.85 86.56,438.33 86.50,439.42 86.46,441.31 86.80,442.90 86.62,445.04 86.86,446.37 86.54,447.96 86.71,450.00 86.76,451.09 86.72,452.93 86.86,454.22 86.83,456.23 87.02,457.65 86.81,459.87 86.70,461.34 86.99,462.65 86.91,464.52 87.12,466.14 87.08,466.95 86.92,468.71 87.02,470.79 87.23,472.90 86.90,474.18 87.10,475.17 87.04,477.65 87.16,478.73 87.23,480.39 87.15,482.18 87.15,483.92 87.42,486.07 87.41,488.07 87.30,490.38 87.41,491.80 87.68,494.16" fill="none" stroke="#333" stroke-width="0.75" stroke-linejoin="round"/>
<polyline points="103.43,494.16 103.70,494.03 103.85,492.57 103.73,490.25 103.93,489.37 104.08,487.11 103.87,485.62 104.09,483.92 104.62,485.23 104.85,486.59 104.87,488.36 104.77,489.98 104.85,492.13 105.01,494.03 105.27,494.16" fill="none" stroke="#333" stroke-width="0.75" stroke-linejoin="round"/>
<polyline points="111.06,494.06 111.67,493.94 112.27,490.91 113.48,490.30 114.09,489.70 114.35,488.43 114.08,485.83 114.46,483.88 114.26,482.35 114.23,480.32 114.45,478.79 114.43,477.01 114.68,475.22 114.38,474.34 114.50,472.61 114.60,470.90 114.48,468.50 114.68,467.24 114.62,465.83 114.72,463.71 114.57,462.84 114.66,460.44 114.72,458.76 114.79,456.85 114.70,455.76 115.30,454.55 115.91,452.12 116.23,450.38 116.27,448.48 116.25,447.28 116.24,444.71 116.20,443.35 116.52,441.77 116.41,440.20 116.32,437.86 116.52,436.36 116.60,435.31 116.63,433.36 116.71,431.39 116.81,430.19 116.58,428.15 116.81,426.49 116.57,425.50 116.74,423.46 116.76,421.82 116.90,420.60 116.75,418.23 116.79,416.62 117.05,415.45 117.12,413.33 117.31,415.04 117.32,416.65 117.48,418.18 117.41,420.25 117.65,421.89 117.40,423.35 117.68,424.79 117.76,426.92 117.72,428.48 117.70,430.21 117.51,431.65 117.77,433.19 117.61,434.19 117.73,436.36 118.09,437.58 118.17,439.78 118.08,440.87 118.10,442.54 118.33,445.42 118.42,446.50 118.33,448.48 118.45,449.70 118.54,451.74 118.23,453.83 118.32,455.14 118.32,457.08 118.56,459.24 118.58,460.61 118.50,462.62 118.65,463.51 118.94,465.45 119.55,467.88 119.70,469.51 119.68,471.60 119.73,473.69 119.83,475.56 120.18,477.01 120.15,478.79 120.01,480.85 120.06,482.26 120.28,483.46 120.41,485.98 120.45,487.33 120.47,489.28 120.52,490.91 120.76,493.94 121.12,494.06" fill="none" stroke="#333" stroke-width="0.75" stroke-linejoin="round"/>
<polyline points="117.12,413.33 117.01,415.41 117.33,416.97 117.31,418.04 117.33,419.36 117.11,421.08 117.10,423.37 117.21,424.73 117.05,426.05 117.08,427.80 116.99,429.98 117.13,431.26 116.99,433.21 116.99,434.32 117.15,436.48 117.32,438.18 117.31,440.02 117.21,441.41 116.94,442.43 116.92,444.86 117.12,446.06 117.19,447.88 116.97,449.20 116.90,451.20 117.23,452.46 116.80,453.96 116.91,456.49 117.07,457.62 116.75,458.86 116.75,461.32 116.85,463.24 117.01,464.66 116.81,466.35 116.63,467.15 116.79,469.29 116.62,470.64 116.51,473.09 116.78,474.79 116.86,475.84 116.64,477.58 116.61,479.25 116.52,481.62 116.12,482.45 116.15,484.85" fill="none" stroke="#333" stroke-width="0.75" stroke-linejoin="round"/>
<polyline points="197.76,494.05 198.17,493.97 198.82,492.25 199.40,490.21 199.80,490.62 199.77,492.40 199.97,493.97 200.21,494.05" fill="none" stroke="#333" stroke-width="0.75" stroke-linejoin="round"/>
<polyline points="221.05,494.05 221.45,493.97 222.03,492.25 222.18,489.62 222.43,488.17 222.78,490.15 222.84,491.44 223.33,493.07 223.66,493.97 223.91,494.05" fill="none" stroke="#333" stroke-width="0.75" stroke-linejoin="round"/>
<polyline points="230.44,494.05 230.85,493.97 231.50,492.25 232.08,491.03 232.48,493.97 232.73,494.05" fill="none" stroke="#333" stroke-width="0.75" stroke-linejoin="round"/>
<path d="M85.20,395.78V494.28" fill="none" stroke="#3a3a3a" stroke-width="1"/>
<path d="M84.90,494.28H566.40" fill="none" stroke="#111" stroke-width="1"/>
<line x1="85.20" y1="395.78" x2="87.80" y2="395.78" stroke="#8a8a8a" stroke-width="1"/>
<text x="82.4" y="399.28" font-size="9.8" text-anchor="end" font-family="Liberation Sans, Arial, Helvetica, sans-serif" stroke="#000" stroke-width="0.2">1.0</text>
<line x1="85.20" y1="445.03" x2="87.80" y2="445.03" stroke="#8a8a8a" stroke-width="1"/>
<text x="82.9" y="448.63" font-size="9.8" letter-spacing="0.5" text-anchor="end" font-family="Liberation Sans, Arial, Helvetica, sans-serif" stroke="#000" stroke-width="0.2">0.5</text>
<text x="82.9" y="497.88" font-size="9.8" letter-spacing="0.5" text-anchor="end" font-family="Liberation Sans, Arial, Helvetica, sans-serif" stroke="#000" stroke-width="0.2">0.0</text>
<line x1="139.50" y1="494.28" x2="139.50" y2="485.78" stroke="#8a8a8a" stroke-width="1"/>
<text x="139.50" y="505.78" font-size="9.8" text-anchor="middle" font-family="Liberation Sans, Arial, Helvetica, sans-serif" stroke="#000" stroke-width="0.2">1000</text>
<line x1="196.50" y1="494.28" x2="196.50" y2="485.78" stroke="#8a8a8a" stroke-width="1"/>
<text x="196.50" y="505.78" font-size="9.8" text-anchor="middle" font-family="Liberation Sans, Arial, Helvetica, sans-serif" stroke="#000" stroke-width="0.2">2000</text>
<line x1="253.50" y1="494.28" x2="253.50" y2="485.78" stroke="#8a8a8a" stroke-width="1"/>
<text x="253.50" y="505.78" font-size="9.8" text-anchor="middle" font-family="Liberation Sans, Arial, Helvetica, sans-serif" stroke="#000" stroke-width="0.2">3000</text>
<line x1="310.50" y1="494.28" x2="310.50" y2="485.78" stroke="#8a8a8a" stroke-width="1"/>
<text x="310.50" y="505.78" font-size="9.8" text-anchor="middle" font-family="Liberation Sans, Arial, Helvetica, sans-serif" stroke="#000" stroke-width="0.2">4000</text>
<line x1="367.50" y1="494.28" x2="367.50" y2="485.78" stroke="#8a8a8a" stroke-width="1"/>
<text x="367.50" y="505.78" font-size="9.8" text-anchor="middle" font-family="Liberation Sans, Arial, Helvetica, sans-serif" stroke="#000" stroke-width="0.2">5000</text>
<line x1="424.50" y1="494.28" x2="424.50" y2="485.78" stroke="#8a8a8a" stroke-width="1"/>
<text x="424.50" y="505.78" font-size="9.8" text-anchor="middle" font-family="Liberation Sans, Arial, Helvetica, sans-serif" stroke="#000" stroke-width="0.2">6000</text>
<line x1="481.50" y1="494.28" x2="481.50" y2="485.78" stroke="#8a8a8a" stroke-width="1"/>
<text x="481.50" y="505.78" font-size="9.8" text-anchor="middle" font-family="Liberation Sans, Arial, Helvetica, sans-serif" stroke="#000" stroke-width="0.2">7000</text>
<line x1="538.50" y1="494.28" x2="538.50" y2="485.78" stroke="#8a8a8a" stroke-width="1"/>
<text x="538.50" y="505.78" font-size="9.8" text-anchor="middle" font-family="Liberation Sans, Arial, Helvetica, sans-serif" stroke="#000" stroke-width="0.2">8000</text>
<line x1="125.60" y1="494.28" x2="125.60" y2="491.28" stroke="#8a8a8a" stroke-width="1"/>
<line x1="165.70" y1="494.28" x2="165.70" y2="491.28" stroke="#8a8a8a" stroke-width="1"/>
<line x1="205.80" y1="494.28" x2="205.80" y2="491.28" stroke="#8a8a8a" stroke-width="1"/>
<line x1="245.90" y1="494.28" x2="245.90" y2="491.28" stroke="#8a8a8a" stroke-width="1"/>
<line x1="286.00" y1="494.28" x2="286.00" y2="491.28" stroke="#8a8a8a" stroke-width="1"/>
<line x1="326.10" y1="494.28" x2="326.10" y2="491.28" stroke="#8a8a8a" stroke-width="1"/>
<line x1="366.20" y1="494.28" x2="366.20" y2="491.28" stroke="#8a8a8a" stroke-width="1"/>
<line x1="406.30" y1="494.28" x2="406.30" y2="491.28" stroke="#8a8a8a" stroke-width="1"/>
<line x1="446.40" y1="494.28" x2="446.40" y2="491.28" stroke="#8a8a8a" stroke-width="1"/>
<line x1="486.50" y1="494.28" x2="486.50" y2="491.28" stroke="#8a8a8a" stroke-width="1"/>
<line x1="526.60" y1="494.28" x2="526.60" y2="491.28" stroke="#8a8a8a" stroke-width="1"/>
<line x1="566.40" y1="494.28" x2="566.40" y2="491.28" stroke="#8a8a8a" stroke-width="1"/>
<line x1="88.40" y1="557.89" x2="88.40" y2="561.69" stroke="#8c8c8c" stroke-width="0.9"/>
<line x1="105.40" y1="557.89" x2="105.40" y2="561.69" stroke="#8c8c8c" stroke-width="0.9"/>
<line x1="116.40" y1="557.89" x2="116.40" y2="561.69" stroke="#8c8c8c" stroke-width="0.9"/>
<line x1="117.10" y1="557.89" x2="117.10" y2="561.69" stroke="#8c8c8c" stroke-width="0.9"/>
<line x1="118.10" y1="557.89" x2="118.10" y2="561.69" stroke="#8c8c8c" stroke-width="0.9"/>
<line x1="125.40" y1="557.89" x2="125.40" y2="561.69" stroke="#8c8c8c" stroke-width="0.9"/>
<line x1="127.60" y1="557.89" x2="127.60" y2="561.69" stroke="#8c8c8c" stroke-width="0.9"/>
<line x1="134.50" y1="557.89" x2="134.50" y2="561.69" stroke="#8c8c8c" stroke-width="0.9"/>
<line x1="139.40" y1="557.89" x2="139.40" y2="561.69" stroke="#8c8c8c" stroke-width="0.9"/>
<line x1="144.50" y1="557.89" x2="144.50" y2="561.69" stroke="#8c8c8c" stroke-width="0.9"/>
<line x1="170.40" y1="557.89" x2="170.40" y2="561.69" stroke="#8c8c8c" stroke-width="0.9"/>
<line x1="174.40" y1="557.89" x2="174.40" y2="561.69" stroke="#8c8c8c" stroke-width="0.9"/>
<line x1="179.50" y1="557.89" x2="179.50" y2="561.69" stroke="#8c8c8c" stroke-width="0.9"/>
<line x1="180.20" y1="557.89" x2="180.20" y2="561.69" stroke="#8c8c8c" stroke-width="0.9"/>
<line x1="182.20" y1="557.89" x2="182.20" y2="561.69" stroke="#8c8c8c" stroke-width="0.9"/>
<line x1="183.00" y1="557.89" x2="183.00" y2="561.69" stroke="#8c8c8c" stroke-width="0.9"/>
<line x1="192.50" y1="557.89" x2="192.50" y2="561.69" stroke="#8c8c8c" stroke-width="0.9"/>
<line x1="193.50" y1="557.89" x2="193.50" y2="561.69" stroke="#8c8c8c" stroke-width="0.9"/>
<line x1="196.40" y1="557.89" x2="196.40" y2="561.69" stroke="#8c8c8c" stroke-width="0.9"/>
<line x1="200.30" y1="557.89" x2="200.30" y2="561.69" stroke="#8c8c8c" stroke-width="0.9"/>
<line x1="202.50" y1="557.89" x2="202.50" y2="561.69" stroke="#8c8c8c" stroke-width="0.9"/>
<line x1="204.40" y1="557.89" x2="204.40" y2="561.69" stroke="#8c8c8c" stroke-width="0.9"/>
<line x1="208.60" y1="557.89" x2="208.60" y2="561.69" stroke="#8c8c8c" stroke-width="0.9"/>
<line x1="214.50" y1="557.89" x2="214.50" y2="561.69" stroke="#8c8c8c" stroke-width="0.9"/>
<line x1="217.50" y1="557.89" x2="217.50" y2="561.69" stroke="#8c8c8c" stroke-width="0.9"/>
<line x1="218.40" y1="557.89" x2="218.40" y2="561.69" stroke="#8c8c8c" stroke-width="0.9"/>
<line x1="224.50" y1="557.89" x2="224.50" y2="561.69" stroke="#8c8c8c" stroke-width="0.9"/>
<line x1="225.50" y1="557.89" x2="225.50" y2="561.69" stroke="#8c8c8c" stroke-width="0.9"/>
<line x1="227.60" y1="557.89" x2="227.60" y2="561.69" stroke="#8c8c8c" stroke-width="0.9"/>
<line x1="232.40" y1="557.89" x2="232.40" y2="561.69" stroke="#8c8c8c" stroke-width="0.9"/>
<line x1="243.30" y1="557.89" x2="243.30" y2="561.69" stroke="#8c8c8c" stroke-width="0.9"/>
<line x1="246.60" y1="557.89" x2="246.60" y2="561.69" stroke="#8c8c8c" stroke-width="0.9"/>
<line x1="254.40" y1="557.89" x2="254.40" y2="561.69" stroke="#8c8c8c" stroke-width="0.9"/>
<line x1="255.90" y1="557.89" x2="255.90" y2="561.69" stroke="#8c8c8c" stroke-width="0.9"/>
<line x1="258.60" y1="557.89" x2="258.60" y2="561.69" stroke="#8c8c8c" stroke-width="0.9"/>
<line x1="260.50" y1="557.89" x2="260.50" y2="561.69" stroke="#8c8c8c" stroke-width="0.9"/>
<line x1="265.60" y1="557.89" x2="265.60" y2="561.69" stroke="#8c8c8c" stroke-width="0.9"/>
<line x1="266.60" y1="557.89" x2="266.60" y2="561.69" stroke="#8c8c8c" stroke-width="0.9"/>
<line x1="267.60" y1="557.89" x2="267.60" y2="561.69" stroke="#8c8c8c" stroke-width="0.9"/>
<line x1="277.10" y1="557.89" x2="277.10" y2="561.69" stroke="#8c8c8c" stroke-width="0.9"/>
<line x1="279.10" y1="557.89" x2="279.10" y2="561.69" stroke="#8c8c8c" stroke-width="0.9"/>
<line x1="283.70" y1="557.89" x2="283.70" y2="561.69" stroke="#8c8c8c" stroke-width="0.9"/>
<line x1="289.60" y1="557.89" x2="289.60" y2="561.69" stroke="#8c8c8c" stroke-width="0.9"/>
<line x1="290.50" y1="557.89" x2="290.50" y2="561.69" stroke="#8c8c8c" stroke-width="0.9"/>
<line x1="291.50" y1="557.89" x2="291.50" y2="561.69" stroke="#8c8c8c" stroke-width="0.9"/>
<line x1="292.50" y1="557.89" x2="292.50" y2="561.69" stroke="#8c8c8c" stroke-width="0.9"/>
<line x1="293.50" y1="557.89" x2="293.50" y2="561.69" stroke="#8c8c8c" stroke-width="0.9"/>
<line x1="296.40" y1="557.89" x2="296.40" y2="561.69" stroke="#8c8c8c" stroke-width="0.9"/>
<line x1="299.40" y1="557.89" x2="299.40" y2="561.69" stroke="#8c8c8c" stroke-width="0.9"/>
<line x1="304.30" y1="557.89" x2="304.30" y2="561.69" stroke="#8c8c8c" stroke-width="0.9"/>
<line x1="306.20" y1="557.89" x2="306.20" y2="561.69" stroke="#8c8c8c" stroke-width="0.9"/>
<line x1="309.20" y1="557.89" x2="309.20" y2="561.69" stroke="#8c8c8c" stroke-width="0.9"/>
<line x1="312.10" y1="557.89" x2="312.10" y2="561.69" stroke="#8c8c8c" stroke-width="0.9"/>
<line x1="314.40" y1="557.89" x2="314.40" y2="561.69" stroke="#8c8c8c" stroke-width="0.9"/>
<line x1="317.30" y1="557.89" x2="317.30" y2="561.69" stroke="#8c8c8c" stroke-width="0.9"/>
<line x1="321.40" y1="557.89" x2="321.40" y2="561.69" stroke="#8c8c8c" stroke-width="0.9"/>
<line x1="323.40" y1="557.89" x2="323.40" y2="561.69" stroke="#8c8c8c" stroke-width="0.9"/>
<line x1="325.30" y1="557.89" x2="325.30" y2="561.69" stroke="#8c8c8c" stroke-width="0.9"/>
<line x1="329.20" y1="557.89" x2="329.20" y2="561.69" stroke="#8c8c8c" stroke-width="0.9"/>
<line x1="331.20" y1="557.89" x2="331.20" y2="561.69" stroke="#8c8c8c" stroke-width="0.9"/>
<line x1="338.40" y1="557.89" x2="338.40" y2="561.69" stroke="#8c8c8c" stroke-width="0.9"/>
<line x1="340.30" y1="557.89" x2="340.30" y2="561.69" stroke="#8c8c8c" stroke-width="0.9"/>
<line x1="342.30" y1="557.89" x2="342.30" y2="561.69" stroke="#8c8c8c" stroke-width="0.9"/>
<line x1="345.40" y1="557.89" x2="345.40" y2="561.69" stroke="#8c8c8c" stroke-width="0.9"/>
<polyline points="94.29,607.35 94.78,607.25 95.57,606.27 96.25,605.78 96.75,607.06 96.76,604.87 96.96,603.82 96.64,601.92 96.90,600.96 96.87,599.02 96.78,596.91 97.10,595.43 96.79,594.04 96.82,591.93 96.98,590.75 97.09,589.26 97.03,586.85 97.17,585.19 97.09,583.97 97.20,582.70 97.05,580.98 97.26,579.13 97.06,578.01 97.24,575.88 97.43,575.88 97.51,577.07 97.40,579.90 97.43,580.90 97.70,583.13 97.67,584.75 97.46,585.69 97.89,588.26 97.73,589.61 97.69,590.70 97.94,593.39 98.22,594.51 98.12,593.02 98.45,591.29 98.47,589.15 98.18,587.16 98.46,585.57 98.57,584.60 98.27,583.02 98.29,580.98 98.29,579.61 98.65,578.08 98.51,575.88 98.71,575.88 98.51,577.94 98.75,579.55 98.74,580.95 98.79,582.81 98.58,583.55 98.79,585.48 98.73,586.78 98.89,588.44 98.94,591.02 98.79,591.84 98.88,593.58 98.80,595.11 99.04,597.27 98.79,598.37 98.96,600.92 99.02,601.66 98.83,603.54 99.00,605.00 98.90,607.06 99.09,606.02 99.20,603.82 99.55,604.95 99.69,607.25 101.16,607.35 101.65,607.25 101.86,604.83 102.43,603.33 103.12,604.31 103.61,607.25 105.32,607.41 106.88,607.27 108.51,607.35 109.00,607.25 109.69,606.27 110.47,606.47 111.25,607.25 112.43,607.35 112.92,607.25 113.41,605.10 114.39,607.25 114.88,607.35" fill="none" stroke="#333" stroke-width="0.75" stroke-linejoin="round"/>
<polyline points="146.82,607.64 147.27,607.55 147.25,606.00 147.37,604.69 147.42,602.87 147.51,601.25 147.45,598.60 147.45,597.91 147.36,596.27 147.27,594.67 147.40,592.71 147.34,590.54 147.40,588.90 147.31,587.36 147.70,585.94 147.69,584.39 147.67,583.00 147.55,580.73 148.18,580.73 148.32,582.13 148.13,583.97 148.07,585.43 148.46,587.94 148.25,589.43 148.47,591.25 148.50,592.50 148.24,594.53 148.36,595.96 148.41,597.53 148.69,598.76 148.54,601.02 148.57,603.04 148.54,604.69 148.69,606.43 148.64,607.55 151.82,607.55 152.73,606.18 153.64,606.64 154.55,605.27 155.45,606.36 156.36,605.73 157.27,606.18 158.18,606.00 159.09,607.55 160.00,607.55 160.05,604.93 160.45,603.00 160.48,601.78 160.48,599.30 160.89,598.47 160.91,596.18 160.85,594.29 161.14,592.77 161.25,591.03 161.12,588.62 161.10,587.32 161.25,584.98 161.45,583.45 161.72,585.44 161.64,587.28 161.71,589.14 161.66,590.20 161.82,592.55 161.73,593.78 161.94,595.75 161.93,597.99 162.18,599.82 162.55,601.64 162.92,599.59 162.91,597.09 163.09,595.14 163.45,592.55 163.50,590.25 163.82,588.91 163.83,586.98 164.08,585.21 164.19,582.97 164.18,581.64 164.40,579.81 164.39,577.80 164.43,576.40 164.48,575.45 164.44,573.19 164.19,571.45 164.61,569.77 164.54,568.65 164.58,566.53 164.55,565.27 164.43,563.08 164.82,561.72 164.71,560.24 164.57,557.93 164.51,557.17 164.59,555.60 164.73,553.61 164.82,551.64 164.72,550.35 164.82,548.20 164.99,546.26 164.93,545.45 165.09,543.45 165.06,544.95 165.31,546.40 165.13,548.03 165.26,549.84 165.36,551.64 165.44,553.26 165.55,554.40 165.48,557.00 165.32,557.68 165.42,559.44 165.45,561.81 165.31,562.75 165.49,564.47 165.40,566.44 165.37,567.65 165.55,569.82 165.50,571.40 165.75,573.13 165.40,574.36 165.70,576.39 165.77,578.49 165.77,579.09 165.82,581.21 165.54,582.41 165.82,584.08 165.50,585.77 165.87,587.63 165.80,588.79 165.69,590.70 165.73,592.55 165.74,594.56 166.00,596.18 166.36,596.18 166.40,597.54 166.75,599.80 166.64,601.64 166.59,603.02 166.88,605.59 166.91,607.55 167.27,607.64" fill="none" stroke="#333" stroke-width="0.75" stroke-linejoin="round"/>
<polyline points="161.64,603.45 162.18,601.64 162.73,600.73 162.80,598.42 163.27,596.18 163.82,594.36 164.19,592.59 164.36,590.73 164.43,588.91 164.77,587.27 164.91,585.27 165.27,583.45 165.18,585.64 165.58,587.38 165.60,588.75 165.68,590.35 165.46,592.66 165.64,594.36 165.94,595.68 165.79,597.44 166.02,599.39 166.18,601.64 166.17,603.90 166.46,606.10 166.55,607.55" fill="none" stroke="#333" stroke-width="0.75" stroke-linejoin="round"/>
<polyline points="234.90,607.55 235.39,607.45 236.08,605.78 236.86,603.33 237.65,600.39 238.33,598.43 239.02,595.49 239.61,592.55 239.81,590.80 240.10,588.63 240.49,587.16 240.38,589.82 240.57,591.38 240.78,593.53 240.83,595.83 240.86,597.65 240.95,598.48 241.08,600.23 240.98,602.35 241.27,605.29 241.76,607.45 242.25,607.55" fill="none" stroke="#333" stroke-width="0.75" stroke-linejoin="round"/>
<polyline points="272.65,607.55 273.14,607.45 273.59,605.34 273.63,603.33 273.61,602.12 273.75,599.69 273.86,598.24 273.82,596.12 274.12,594.51 274.05,593.22 274.05,591.28 274.23,589.41 274.42,588.04 274.32,585.79 274.38,584.98 274.61,582.75 274.71,580.59 275.10,579.31 275.39,578.82 275.50,580.88 275.75,582.21 275.69,584.71 275.60,585.94 275.77,587.92 275.71,590.07 275.84,591.67 275.99,592.60 276.00,594.40 275.65,596.64 275.69,597.20 275.88,599.41 275.83,600.77 276.16,603.07 275.97,604.27 276.19,606.21 276.08,607.45 276.37,607.55" fill="none" stroke="#333" stroke-width="0.75" stroke-linejoin="round"/>
<polyline points="273.14,607.45 273.28,605.86 273.13,603.93 273.44,602.73 273.58,601.50 273.53,599.41 273.82,597.41 273.55,596.62 273.85,594.13 274.00,592.58 273.91,591.08 274.12,589.61 274.29,591.45 274.27,593.17 274.61,594.51 274.70,596.09 274.75,598.10 274.51,599.33 274.83,601.23 274.85,602.21 275.02,604.56 274.75,605.75 274.90,607.45" fill="none" stroke="#333" stroke-width="0.75" stroke-linejoin="round"/>
<polyline points="186.47,607.81 187.19,607.63 187.91,604.93 188.63,606.37 189.35,607.63 190.07,607.81" fill="none" stroke="#333" stroke-width="0.75" stroke-linejoin="round"/>
<path d="M85.20,509.14V607.64" fill="none" stroke="#3a3a3a" stroke-width="1"/>
<path d="M84.90,607.64H566.40" fill="none" stroke="#111" stroke-width="1"/>
<line x1="85.20" y1="509.14" x2="87.80" y2="509.14" stroke="#8a8a8a" stroke-width="1"/>
<text x="82.4" y="512.64" font-size="9.8" text-anchor="end" font-family="Liberation Sans, Arial, Helvetica, sans-serif" stroke="#000" stroke-width="0.2">1.0</text>
<line x1="85.20" y1="558.39" x2="87.80" y2="558.39" stroke="#8a8a8a" stroke-width="1"/>
<text x="82.9" y="561.99" font-size="9.8" letter-spacing="0.5" text-anchor="end" font-family="Liberation Sans, Arial, Helvetica, sans-serif" stroke="#000" stroke-width="0.2">0.5</text>
<text x="82.9" y="611.24" font-size="9.8" letter-spacing="0.5" text-anchor="end" font-family="Liberation Sans, Arial, Helvetica, sans-serif" stroke="#000" stroke-width="0.2">0.0</text>
<line x1="139.50" y1="607.64" x2="139.50" y2="599.14" stroke="#8a8a8a" stroke-width="1"/>
<text x="139.50" y="619.14" font-size="9.8" text-anchor="middle" font-family="Liberation Sans, Arial, Helvetica, sans-serif" stroke="#000" stroke-width="0.2">1000</text>
<line x1="196.50" y1="607.64" x2="196.50" y2="599.14" stroke="#8a8a8a" stroke-width="1"/>
<text x="196.50" y="619.14" font-size="9.8" text-anchor="middle" font-family="Liberation Sans, Arial, Helvetica, sans-serif" stroke="#000" stroke-width="0.2">2000</text>
<line x1="253.50" y1="607.64" x2="253.50" y2="599.14" stroke="#8a8a8a" stroke-width="1"/>
<text x="253.50" y="619.14" font-size="9.8" text-anchor="middle" font-family="Liberation Sans, Arial, Helvetica, sans-serif" stroke="#000" stroke-width="0.2">3000</text>
<line x1="310.50" y1="607.64" x2="310.50" y2="599.14" stroke="#8a8a8a" stroke-width="1"/>
<text x="310.50" y="619.14" font-size="9.8" text-anchor="middle" font-family="Liberation Sans, Arial, Helvetica, sans-serif" stroke="#000" stroke-width="0.2">4000</text>
<line x1="367.50" y1="607.64" x2="367.50" y2="599.14" stroke="#8a8a8a" stroke-width="1"/>
<text x="367.50" y="619.14" font-size="9.8" text-anchor="middle" font-family="Liberation Sans, Arial, Helvetica, sans-serif" stroke="#000" stroke-width="0.2">5000</text>
<line x1="424.50" y1="607.64" x2="424.50" y2="599.14" stroke="#8a8a8a" stroke-width="1"/>
<text x="424.50" y="619.14" font-size="9.8" text-anchor="middle" font-family="Liberation Sans, Arial, Helvetica, sans-serif" stroke="#000" stroke-width="0.2">6000</text>
<line x1="481.50" y1="607.64" x2="481.50" y2="599.14" stroke="#8a8a8a" stroke-width="1"/>
<text x="481.50" y="619.14" font-size="9.8" text-anchor="middle" font-family="Liberation Sans, Arial, Helvetica, sans-serif" stroke="#000" stroke-width="0.2">7000</text>
<line x1="538.50" y1="607.64" x2="538.50" y2="599.14" stroke="#8a8a8a" stroke-width="1"/>
<text x="538.50" y="619.14" font-size="9.8" text-anchor="middle" font-family="Liberation Sans, Arial, Helvetica, sans-serif" stroke="#000" stroke-width="0.2">8000</text>
<line x1="125.60" y1="607.64" x2="125.60" y2="604.64" stroke="#8a8a8a" stroke-width="1"/>
<line x1="165.70" y1="607.64" x2="165.70" y2="604.64" stroke="#8a8a8a" stroke-width="1"/>
<line x1="205.80" y1="607.64" x2="205.80" y2="604.64" stroke="#8a8a8a" stroke-width="1"/>
<line x1="245.90" y1="607.64" x2="245.90" y2="604.64" stroke="#8a8a8a" stroke-width="1"/>
<line x1="286.00" y1="607.64" x2="286.00" y2="604.64" stroke="#8a8a8a" stroke-width="1"/>
<line x1="326.10" y1="607.64" x2="326.10" y2="604.64" stroke="#8a8a8a" stroke-width="1"/>
<line x1="366.20" y1="607.64" x2="366.20" y2="604.64" stroke="#8a8a8a" stroke-width="1"/>
<line x1="406.30" y1="607.64" x2="406.30" y2="604.64" stroke="#8a8a8a" stroke-width="1"/>
<line x1="446.40" y1="607.64" x2="446.40" y2="604.64" stroke="#8a8a8a" stroke-width="1"/>
<line x1="486.50" y1="607.64" x2="486.50" y2="604.64" stroke="#8a8a8a" stroke-width="1"/>
<line x1="526.60" y1="607.64" x2="526.60" y2="604.64" stroke="#8a8a8a" stroke-width="1"/>
<line x1="566.40" y1="607.64" x2="566.40" y2="604.64" stroke="#8a8a8a" stroke-width="1"/>
<line x1="86.90" y1="671.25" x2="86.90" y2="675.05" stroke="#8c8c8c" stroke-width="0.9"/>
<line x1="89.40" y1="671.25" x2="89.40" y2="675.05" stroke="#8c8c8c" stroke-width="0.9"/>
<line x1="91.40" y1="671.25" x2="91.40" y2="675.05" stroke="#8c8c8c" stroke-width="0.9"/>
<line x1="93.30" y1="671.25" x2="93.30" y2="675.05" stroke="#8c8c8c" stroke-width="0.9"/>
<line x1="95.30" y1="671.25" x2="95.30" y2="675.05" stroke="#8c8c8c" stroke-width="0.9"/>
<line x1="96.30" y1="671.25" x2="96.30" y2="675.05" stroke="#8c8c8c" stroke-width="0.9"/>
<line x1="98.70" y1="671.25" x2="98.70" y2="675.05" stroke="#8c8c8c" stroke-width="0.9"/>
<line x1="99.70" y1="671.25" x2="99.70" y2="675.05" stroke="#8c8c8c" stroke-width="0.9"/>
<line x1="100.70" y1="671.25" x2="100.70" y2="675.05" stroke="#8c8c8c" stroke-width="0.9"/>
<line x1="101.60" y1="671.25" x2="101.60" y2="675.05" stroke="#8c8c8c" stroke-width="0.9"/>
<line x1="103.10" y1="671.25" x2="103.10" y2="675.05" stroke="#8c8c8c" stroke-width="0.9"/>
<line x1="104.10" y1="671.25" x2="104.10" y2="675.05" stroke="#8c8c8c" stroke-width="0.9"/>
<line x1="105.10" y1="671.25" x2="105.10" y2="675.05" stroke="#8c8c8c" stroke-width="0.9"/>
<line x1="107.50" y1="671.25" x2="107.50" y2="675.05" stroke="#8c8c8c" stroke-width="0.9"/>
<line x1="110.50" y1="671.25" x2="110.50" y2="675.05" stroke="#8c8c8c" stroke-width="0.9"/>
<line x1="114.90" y1="671.25" x2="114.90" y2="675.05" stroke="#8c8c8c" stroke-width="0.9"/>
<line x1="115.90" y1="671.25" x2="115.90" y2="675.05" stroke="#8c8c8c" stroke-width="0.9"/>
<line x1="117.30" y1="671.25" x2="117.30" y2="675.05" stroke="#8c8c8c" stroke-width="0.9"/>
<line x1="118.80" y1="671.25" x2="118.80" y2="675.05" stroke="#8c8c8c" stroke-width="0.9"/>
<line x1="124.20" y1="671.25" x2="124.20" y2="675.05" stroke="#8c8c8c" stroke-width="0.9"/>
<line x1="130.60" y1="671.25" x2="130.60" y2="675.05" stroke="#8c8c8c" stroke-width="0.9"/>
<line x1="133.00" y1="671.25" x2="133.00" y2="675.05" stroke="#8c8c8c" stroke-width="0.9"/>
<line x1="135.00" y1="671.25" x2="135.00" y2="675.05" stroke="#8c8c8c" stroke-width="0.9"/>
<line x1="137.40" y1="671.25" x2="137.40" y2="675.05" stroke="#8c8c8c" stroke-width="0.9"/>
<line x1="143.30" y1="671.25" x2="143.30" y2="675.05" stroke="#8c8c8c" stroke-width="0.9"/>
<line x1="146.40" y1="671.25" x2="146.40" y2="675.05" stroke="#8c8c8c" stroke-width="0.9"/>
<line x1="152.30" y1="671.25" x2="152.30" y2="675.05" stroke="#8c8c8c" stroke-width="0.9"/>
<line x1="154.30" y1="671.25" x2="154.30" y2="675.05" stroke="#8c8c8c" stroke-width="0.9"/>
<line x1="155.20" y1="671.25" x2="155.20" y2="675.05" stroke="#8c8c8c" stroke-width="0.9"/>
<line x1="158.20" y1="671.25" x2="158.20" y2="675.05" stroke="#8c8c8c" stroke-width="0.9"/>
<line x1="159.20" y1="671.25" x2="159.20" y2="675.05" stroke="#8c8c8c" stroke-width="0.9"/>
<line x1="162.10" y1="671.25" x2="162.10" y2="675.05" stroke="#8c8c8c" stroke-width="0.9"/>
<line x1="162.80" y1="671.25" x2="162.80" y2="675.05" stroke="#8c8c8c" stroke-width="0.9"/>
<line x1="163.80" y1="671.25" x2="163.80" y2="675.05" stroke="#8c8c8c" stroke-width="0.9"/>
<line x1="164.70" y1="671.25" x2="164.70" y2="675.05" stroke="#8c8c8c" stroke-width="0.9"/>
<line x1="165.50" y1="671.25" x2="165.50" y2="675.05" stroke="#8c8c8c" stroke-width="0.9"/>
<line x1="169.50" y1="671.25" x2="169.50" y2="675.05" stroke="#8c8c8c" stroke-width="0.9"/>
<line x1="176.30" y1="671.25" x2="176.30" y2="675.05" stroke="#8c8c8c" stroke-width="0.9"/>
<line x1="177.30" y1="671.25" x2="177.30" y2="675.05" stroke="#8c8c8c" stroke-width="0.9"/>
<line x1="178.30" y1="671.25" x2="178.30" y2="675.05" stroke="#8c8c8c" stroke-width="0.9"/>
<line x1="182.20" y1="671.25" x2="182.20" y2="675.05" stroke="#8c8c8c" stroke-width="0.9"/>
<line x1="183.20" y1="671.25" x2="183.20" y2="675.05" stroke="#8c8c8c" stroke-width="0.9"/>
<line x1="184.20" y1="671.25" x2="184.20" y2="675.05" stroke="#8c8c8c" stroke-width="0.9"/>
<line x1="185.10" y1="671.25" x2="185.10" y2="675.05" stroke="#8c8c8c" stroke-width="0.9"/>
<line x1="187.30" y1="671.25" x2="187.30" y2="675.05" stroke="#8c8c8c" stroke-width="0.9"/>
<line x1="191.50" y1="671.25" x2="191.50" y2="675.05" stroke="#8c8c8c" stroke-width="0.9"/>
<line x1="194.50" y1="671.25" x2="194.50" y2="675.05" stroke="#8c8c8c" stroke-width="0.9"/>
<line x1="196.40" y1="671.25" x2="196.40" y2="675.05" stroke="#8c8c8c" stroke-width="0.9"/>
<line x1="200.30" y1="671.25" x2="200.30" y2="675.05" stroke="#8c8c8c" stroke-width="0.9"/>
<line x1="210.30" y1="671.25" x2="210.30" y2="675.05" stroke="#8c8c8c" stroke-width="0.9"/>
<line x1="212.50" y1="671.25" x2="212.50" y2="675.05" stroke="#8c8c8c" stroke-width="0.9"/>
<line x1="216.50" y1="671.25" x2="216.50" y2="675.05" stroke="#8c8c8c" stroke-width="0.9"/>
<line x1="220.40" y1="671.25" x2="220.40" y2="675.05" stroke="#8c8c8c" stroke-width="0.9"/>
<line x1="221.40" y1="671.25" x2="221.40" y2="675.05" stroke="#8c8c8c" stroke-width="0.9"/>
<line x1="229.40" y1="671.25" x2="229.40" y2="675.05" stroke="#8c8c8c" stroke-width="0.9"/>
<line x1="234.30" y1="671.25" x2="234.30" y2="675.05" stroke="#8c8c8c" stroke-width="0.9"/>
<line x1="238.20" y1="671.25" x2="238.20" y2="675.05" stroke="#8c8c8c" stroke-width="0.9"/>
<line x1="240.40" y1="671.25" x2="240.40" y2="675.05" stroke="#8c8c8c" stroke-width="0.9"/>
<line x1="243.60" y1="671.25" x2="243.60" y2="675.05" stroke="#8c8c8c" stroke-width="0.9"/>
<line x1="244.60" y1="671.25" x2="244.60" y2="675.05" stroke="#8c8c8c" stroke-width="0.9"/>
<line x1="245.60" y1="671.25" x2="245.60" y2="675.05" stroke="#8c8c8c" stroke-width="0.9"/>
<line x1="247.50" y1="671.25" x2="247.50" y2="675.05" stroke="#8c8c8c" stroke-width="0.9"/>
<line x1="250.50" y1="671.25" x2="250.50" y2="675.05" stroke="#8c8c8c" stroke-width="0.9"/>
<line x1="258.40" y1="671.25" x2="258.40" y2="675.05" stroke="#8c8c8c" stroke-width="0.9"/>
<line x1="260.50" y1="671.25" x2="260.50" y2="675.05" stroke="#8c8c8c" stroke-width="0.9"/>
<line x1="267.30" y1="671.25" x2="267.30" y2="675.05" stroke="#8c8c8c" stroke-width="0.9"/>
<line x1="277.10" y1="671.25" x2="277.10" y2="675.05" stroke="#8c8c8c" stroke-width="0.9"/>
<line x1="278.10" y1="671.25" x2="278.10" y2="675.05" stroke="#8c8c8c" stroke-width="0.9"/>
<line x1="280.40" y1="671.25" x2="280.40" y2="675.05" stroke="#8c8c8c" stroke-width="0.9"/>
<line x1="282.70" y1="671.25" x2="282.70" y2="675.05" stroke="#8c8c8c" stroke-width="0.9"/>
<line x1="285.30" y1="671.25" x2="285.30" y2="675.05" stroke="#8c8c8c" stroke-width="0.9"/>
<line x1="287.40" y1="671.25" x2="287.40" y2="675.05" stroke="#8c8c8c" stroke-width="0.9"/>
<line x1="288.40" y1="671.25" x2="288.40" y2="675.05" stroke="#8c8c8c" stroke-width="0.9"/>
<line x1="290.40" y1="671.25" x2="290.40" y2="675.05" stroke="#8c8c8c" stroke-width="0.9"/>
<line x1="292.50" y1="671.25" x2="292.50" y2="675.05" stroke="#8c8c8c" stroke-width="0.9"/>
<line x1="297.20" y1="671.25" x2="297.20" y2="675.05" stroke="#8c8c8c" stroke-width="0.9"/>
<line x1="303.30" y1="671.25" x2="303.30" y2="675.05" stroke="#8c8c8c" stroke-width="0.9"/>
<line x1="305.30" y1="671.25" x2="305.30" y2="675.05" stroke="#8c8c8c" stroke-width="0.9"/>
<line x1="306.20" y1="671.25" x2="306.20" y2="675.05" stroke="#8c8c8c" stroke-width="0.9"/>
<line x1="308.20" y1="671.25" x2="308.20" y2="675.05" stroke="#8c8c8c" stroke-width="0.9"/>
<line x1="309.20" y1="671.25" x2="309.20" y2="675.05" stroke="#8c8c8c" stroke-width="0.9"/>
<line x1="311.40" y1="671.25" x2="311.40" y2="675.05" stroke="#8c8c8c" stroke-width="0.9"/>
<line x1="312.10" y1="671.25" x2="312.10" y2="675.05" stroke="#8c8c8c" stroke-width="0.9"/>
<line x1="315.40" y1="671.25" x2="315.40" y2="675.05" stroke="#8c8c8c" stroke-width="0.9"/>
<line x1="321.40" y1="671.25" x2="321.40" y2="675.05" stroke="#8c8c8c" stroke-width="0.9"/>
<line x1="322.10" y1="671.25" x2="322.10" y2="675.05" stroke="#8c8c8c" stroke-width="0.9"/>
<line x1="327.30" y1="671.25" x2="327.30" y2="675.05" stroke="#8c8c8c" stroke-width="0.9"/>
<line x1="328.00" y1="671.25" x2="328.00" y2="675.05" stroke="#8c8c8c" stroke-width="0.9"/>
<line x1="331.20" y1="671.25" x2="331.20" y2="675.05" stroke="#8c8c8c" stroke-width="0.9"/>
<line x1="334.10" y1="671.25" x2="334.10" y2="675.05" stroke="#8c8c8c" stroke-width="0.9"/>
<line x1="335.10" y1="671.25" x2="335.10" y2="675.05" stroke="#8c8c8c" stroke-width="0.9"/>
<line x1="336.10" y1="671.25" x2="336.10" y2="675.05" stroke="#8c8c8c" stroke-width="0.9"/>
<line x1="343.50" y1="671.25" x2="343.50" y2="675.05" stroke="#8c8c8c" stroke-width="0.9"/>
<line x1="344.40" y1="671.25" x2="344.40" y2="675.05" stroke="#8c8c8c" stroke-width="0.9"/>
<line x1="345.40" y1="671.25" x2="345.40" y2="675.05" stroke="#8c8c8c" stroke-width="0.9"/>
<polyline points="204.56,721.10 204.93,721.03 205.19,718.88 205.04,718.00 205.32,715.33 205.32,713.68 205.29,712.06 205.44,710.47 205.28,707.90 205.39,706.04 205.39,703.97 205.66,702.50 206.03,699.93 206.40,699.56 206.48,701.18 206.46,703.09 206.76,704.71 207.06,707.00 206.99,709.12 207.00,711.13 207.11,712.26 207.20,713.83 207.35,715.77 207.35,717.94 207.87,720.15 208.60,721.03 208.97,721.10" fill="none" stroke="#333" stroke-width="0.75" stroke-linejoin="round"/>
<polyline points="224.63,721.10 225.00,721.03 225.04,719.70 225.31,717.66 225.29,715.37 225.88,715.00 226.25,717.94 226.62,719.41 227.21,720.15 227.72,721.03 228.09,721.10" fill="none" stroke="#333" stroke-width="0.75" stroke-linejoin="round"/>
<path d="M85.20,622.50V721.00" fill="none" stroke="#3a3a3a" stroke-width="1"/>
<path d="M84.90,721.00H566.40" fill="none" stroke="#111" stroke-width="1"/>
<line x1="85.20" y1="622.50" x2="87.80" y2="622.50" stroke="#8a8a8a" stroke-width="1"/>
<text x="82.4" y="626.00" font-size="9.8" text-anchor="end" font-family="Liberation Sans, Arial, Helvetica, sans-serif" stroke="#000" stroke-width="0.2">1.0</text>
<line x1="85.20" y1="671.75" x2="87.80" y2="671.75" stroke="#8a8a8a" stroke-width="1"/>
<text x="82.9" y="675.35" font-size="9.8" letter-spacing="0.5" text-anchor="end" font-family="Liberation Sans, Arial, Helvetica, sans-serif" stroke="#000" stroke-width="0.2">0.5</text>
<text x="82.9" y="724.60" font-size="9.8" letter-spacing="0.5" text-anchor="end" font-family="Liberation Sans, Arial, Helvetica, sans-serif" stroke="#000" stroke-width="0.2">0.0</text>
<line x1="139.50" y1="721.00" x2="139.50" y2="712.50" stroke="#8a8a8a" stroke-width="1"/>
<text x="139.50" y="732.50" font-size="9.8" text-anchor="middle" font-family="Liberation Sans, Arial, Helvetica, sans-serif" stroke="#000" stroke-width="0.2">1000</text>
<line x1="196.50" y1="721.00" x2="196.50" y2="712.50" stroke="#8a8a8a" stroke-width="1"/>
<text x="196.50" y="732.50" font-size="9.8" text-anchor="middle" font-family="Liberation Sans, Arial, Helvetica, sans-serif" stroke="#000" stroke-width="0.2">2000</text>
<line x1="253.50" y1="721.00" x2="253.50" y2="712.50" stroke="#8a8a8a" stroke-width="1"/>
<text x="253.50" y="732.50" font-size="9.8" text-anchor="middle" font-family="Liberation Sans, Arial, Helvetica, sans-serif" stroke="#000" stroke-width="0.2">3000</text>
<line x1="310.50" y1="721.00" x2="310.50" y2="712.50" stroke="#8a8a8a" stroke-width="1"/>
<text x="310.50" y="732.50" font-size="9.8" text-anchor="middle" font-family="Liberation Sans, Arial, Helvetica, sans-serif" stroke="#000" stroke-width="0.2">4000</text>
<line x1="367.50" y1="721.00" x2="367.50" y2="712.50" stroke="#8a8a8a" stroke-width="1"/>
<text x="367.50" y="732.50" font-size="9.8" text-anchor="middle" font-family="Liberation Sans, Arial, Helvetica, sans-serif" stroke="#000" stroke-width="0.2">5000</text>
<line x1="424.50" y1="721.00" x2="424.50" y2="712.50" stroke="#8a8a8a" stroke-width="1"/>
<text x="424.50" y="732.50" font-size="9.8" text-anchor="middle" font-family="Liberation Sans, Arial, Helvetica, sans-serif" stroke="#000" stroke-width="0.2">6000</text>
<line x1="481.50" y1="721.00" x2="481.50" y2="712.50" stroke="#8a8a8a" stroke-width="1"/>
<text x="481.50" y="732.50" font-size="9.8" text-anchor="middle" font-family="Liberation Sans, Arial, Helvetica, sans-serif" stroke="#000" stroke-width="0.2">7000</text>
<line x1="538.50" y1="721.00" x2="538.50" y2="712.50" stroke="#8a8a8a" stroke-width="1"/>
<text x="538.50" y="732.50" font-size="9.8" text-anchor="middle" font-family="Liberation Sans, Arial, Helvetica, sans-serif" stroke="#000" stroke-width="0.2">8000</text>
<line x1="125.60" y1="721.00" x2="125.60" y2="718.00" stroke="#8a8a8a" stroke-width="1"/>
<line x1="165.70" y1="721.00" x2="165.70" y2="718.00" stroke="#8a8a8a" stroke-width="1"/>
<line x1="205.80" y1="721.00" x2="205.80" y2="718.00" stroke="#8a8a8a" stroke-width="1"/>
<line x1="245.90" y1="721.00" x2="245.90" y2="718.00" stroke="#8a8a8a" stroke-width="1"/>
<line x1="286.00" y1="721.00" x2="286.00" y2="718.00" stroke="#8a8a8a" stroke-width="1"/>
<line x1="326.10" y1="721.00" x2="326.10" y2="718.00" stroke="#8a8a8a" stroke-width="1"/>
<line x1="366.20" y1="721.00" x2="366.20" y2="718.00" stroke="#8a8a8a" stroke-width="1"/>
<line x1="406.30" y1="721.00" x2="406.30" y2="718.00" stroke="#8a8a8a" stroke-width="1"/>
<line x1="446.40" y1="721.00" x2="446.40" y2="718.00" stroke="#8a8a8a" stroke-width="1"/>
<line x1="486.50" y1="721.00" x2="486.50" y2="718.00" stroke="#8a8a8a" stroke-width="1"/>
<line x1="526.60" y1="721.00" x2="526.60" y2="718.00" stroke="#8a8a8a" stroke-width="1"/>
<line x1="566.40" y1="721.00" x2="566.40" y2="718.00" stroke="#8a8a8a" stroke-width="1"/>
<path d="M64.8,47.4 Q58.6,48.6 58.6,53.5 V210.5 C58.6,215 55.5,217.6 51.0,217.9 C55.5,218.2 58.6,221 58.6,225.3 V383.5 Q58.6,387.5 65,388.1 Q58.6,388.7 58.6,392.5 V550.5 C58.6,555 55.5,557.6 51.0,557.9 C55.5,558.2 58.6,561 58.6,565.3 V721.6 Q58.6,727 64.8,728.2" fill="none" stroke="#999" stroke-width="0.9"/>
<text transform="translate(48.3,218.1) rotate(-90)" font-size="9.8" text-anchor="middle" font-family="Liberation Sans, Arial, Helvetica, sans-serif" stroke="#000" stroke-width="0.2">Direct Sequence</text>
<text transform="translate(48.3,558.4) rotate(-90)" font-size="9.95" text-anchor="middle" font-family="Liberation Sans, Arial, Helvetica, sans-serif" stroke="#000" stroke-width="0.2">Complementary Sequence</text>
<text x="326.3" y="748.9" font-size="9.8" text-anchor="middle" font-family="Liberation Sans, Arial, Helvetica, sans-serif" stroke="#000" stroke-width="0.2">Nucleotide Position</text></svg>
</body></html>
